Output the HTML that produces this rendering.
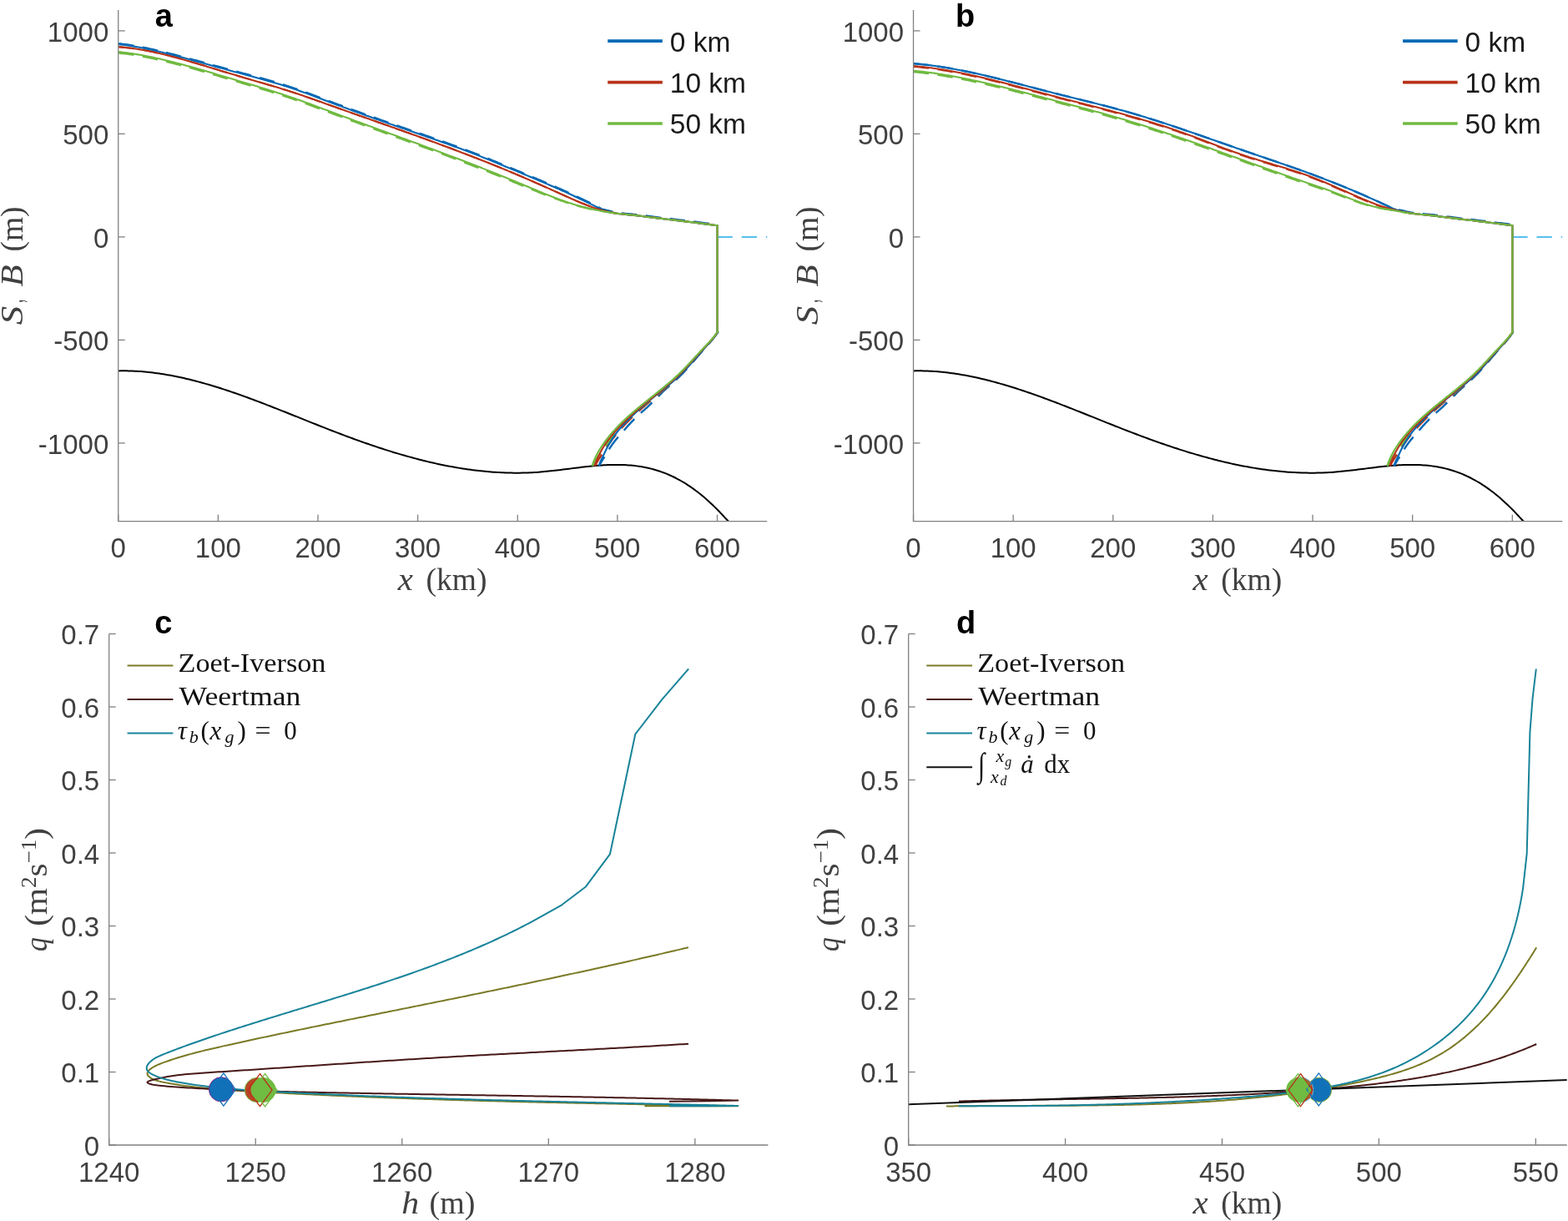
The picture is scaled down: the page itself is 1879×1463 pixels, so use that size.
<!DOCTYPE html>
<html><head><meta charset="utf-8"><title>Figure</title>
<style>html,body{margin:0;padding:0;background:#fff;}svg{display:block;}</style>
</head><body>
<svg width="1879" height="1463" viewBox="0 0 1879 1463">
<rect width="100%" height="100%" fill="#fff"/>
<defs><clipPath id="ca"><rect x="141.75" y="8" width="778.56" height="616.7"/></clipPath></defs>
<g clip-path="url(#ca)" fill="none" stroke-linejoin="round">
<path d="M859.5 283.9H919.31" stroke="#58c0ed" stroke-width="2" stroke-dasharray="18.3,10.9"/>
<polyline points="141.75,444.42 144.21,444.37 146.66,444.34 149.12,444.34 151.57,444.36 154.03,444.41 156.48,444.47 158.94,444.56 161.4,444.67 163.85,444.8 166.31,444.95 168.76,445.12 171.22,445.31 173.67,445.53 176.13,445.76 178.59,446.01 181.04,446.29 183.5,446.58 185.95,446.89 188.41,447.22 190.86,447.57 193.32,447.94 195.78,448.32 198.23,448.72 200.69,449.14 203.14,449.58 205.6,450.03 208.05,450.5 210.51,450.99 212.96,451.5 215.42,452.01 217.88,452.55 220.33,453.1 222.79,453.66 225.24,454.24 227.7,454.84 230.15,455.45 232.61,456.07 235.07,456.71 237.52,457.36 239.98,458.02 242.43,458.7 244.89,459.39 247.34,460.09 249.8,460.8 252.26,461.53 254.71,462.26 257.17,463.01 259.62,463.77 262.08,464.54 264.53,465.32 266.99,466.11 269.45,466.91 271.9,467.72 274.36,468.54 276.81,469.37 279.27,470.21 281.72,471.06 284.18,471.91 286.64,472.78 289.09,473.65 291.55,474.53 294,475.41 296.46,476.31 298.91,477.21 301.37,478.11 303.83,479.03 306.28,479.95 308.74,480.87 311.19,481.8 313.65,482.74 316.1,483.68 318.56,484.62 321.02,485.57 323.47,486.53 325.93,487.49 328.38,488.45 330.84,489.41 333.29,490.38 335.75,491.35 338.2,492.33 340.66,493.3 343.12,494.28 345.57,495.26 348.03,496.24 350.48,497.22 352.94,498.21 355.39,499.19 357.85,500.17 360.31,501.16 362.76,502.14 365.22,503.13 367.67,504.11 370.13,505.09 372.58,506.08 375.04,507.06 377.5,508.03 379.95,509.01 382.41,509.99 384.86,510.96 387.32,511.93 389.77,512.89 392.23,513.86 394.69,514.81 397.14,515.77 399.6,516.72 402.05,517.67 404.51,518.61 406.96,519.55 409.42,520.48 411.88,521.41 414.33,522.33 416.79,523.25 419.24,524.15 421.7,525.06 424.15,525.96 426.61,526.85 429.07,527.73 431.52,528.61 433.98,529.48 436.43,530.35 438.89,531.21 441.34,532.06 443.8,532.9 446.26,533.74 448.71,534.57 451.17,535.39 453.62,536.2 456.08,537.01 458.53,537.81 460.99,538.6 463.44,539.38 465.9,540.15 468.36,540.92 470.81,541.68 473.27,542.42 475.72,543.16 478.18,543.89 480.63,544.61 483.09,545.33 485.55,546.03 488,546.72 490.46,547.41 492.91,548.08 495.37,548.75 497.82,549.4 500.28,550.04 502.74,550.68 505.19,551.3 507.65,551.92 510.1,552.52 512.56,553.11 515.01,553.69 517.47,554.26 519.93,554.82 522.38,555.37 524.84,555.91 527.29,556.43 529.75,556.95 532.2,557.45 534.66,557.94 537.12,558.42 539.57,558.88 542.03,559.34 544.48,559.78 546.94,560.21 549.39,560.63 551.85,561.03 554.31,561.42 556.76,561.8 559.22,562.16 561.67,562.51 564.13,562.85 566.58,563.18 569.04,563.49 571.49,563.79 573.95,564.07 576.41,564.34 578.86,564.6 581.32,564.84 583.77,565.06 586.23,565.28 588.68,565.47 591.14,565.66 593.6,565.83 596.05,565.98 598.51,566.12 600.96,566.24 603.42,566.35 605.87,566.44 608.33,566.52 610.79,566.58 613.24,566.62 615.7,566.65 618.15,566.66 620.61,566.66 623.06,566.64 625.52,566.6 627.98,566.55 630.43,566.48 632.89,566.39 635.34,566.29 637.8,566.17 640.25,566.03 642.71,565.88 645.17,565.7 647.62,565.51 650.08,565.31 652.53,565.08 654.99,564.85 657.44,564.6 659.9,564.34 662.36,564.07 664.81,563.79 667.27,563.51 669.72,563.21 672.18,562.91 674.63,562.61 677.09,562.3 679.55,561.99 682,561.68 684.46,561.37 686.91,561.06 689.37,560.75 691.82,560.44 694.28,560.14 696.73,559.85 699.19,559.56 701.65,559.29 704.1,559.02 706.56,558.76 709.01,558.51 711.47,558.28 713.92,558.06 716.38,557.85 718.84,557.66 721.29,557.49 723.75,557.34 726.2,557.21 728.66,557.09 731.11,557 733.57,556.94 736.03,556.9 738.48,556.88 740.94,556.89 743.39,556.93 745.85,557 748.3,557.09 750.76,557.22 753.22,557.38 755.67,557.58 758.13,557.81 760.58,558.08 763.04,558.38 765.49,558.72 767.95,559.1 770.41,559.52 772.86,559.99 775.32,560.49 777.77,561.04 780.23,561.64 782.68,562.28 785.14,562.97 787.6,563.71 790.05,564.5 792.51,565.34 794.96,566.23 797.42,567.18 799.87,568.18 802.33,569.24 804.79,570.35 807.24,571.51 809.7,572.74 812.15,574.02 814.61,575.36 817.06,576.75 819.52,578.21 821.97,579.72 824.43,581.29 826.89,582.92 829.34,584.62 831.8,586.37 834.25,588.18 836.71,590.06 839.16,592 841.62,594 844.08,596.06 846.53,598.19 848.99,600.38 851.44,602.64 853.9,604.96 856.35,607.35 858.81,609.8 861.27,612.32 863.72,614.88 866.18,617.48 868.63,620.09 871.09,622.71 873.54,625.31 876,627.88" stroke="#000" stroke-width="2"/>
<polyline points="142.1,52.2 144.73,52.5 147.37,52.82 150,53.16 152.63,53.53 155.26,53.92 157.9,54.33 160.53,54.76 163.16,55.22 165.8,55.69 168.43,56.18 171.06,56.69 173.69,57.21 176.33,57.76 178.96,58.31 181.59,58.88 184.23,59.47 186.86,60.07 189.49,60.68 192.12,61.3 194.76,61.94 197.39,62.58 200.02,63.23 202.66,63.89 205.29,64.56 207.92,65.24 210.55,65.92 213.19,66.61 215.82,67.3 218.45,67.99 221.09,68.7 223.72,69.4 226.35,70.11 228.98,70.82 231.62,71.54 234.25,72.26 236.88,72.98 239.52,73.7 242.15,74.42 244.78,75.15 247.42,75.88 250.05,76.6 252.68,77.33 255.31,78.06 257.95,78.79 260.58,79.51 263.21,80.24 265.85,80.96 268.48,81.69 271.11,82.41 273.74,83.12 276.38,83.84 279.01,84.55 281.64,85.26 284.28,85.96 286.91,86.67 289.54,87.37 292.17,88.07 294.81,88.78 297.44,89.48 300.07,90.19 302.71,90.9 305.34,91.61 307.97,92.32 310.6,93.04 313.24,93.77 315.87,94.5 318.5,95.24 321.14,95.99 323.77,96.74 326.4,97.51 329.03,98.28 331.67,99.07 334.3,99.86 336.93,100.67 339.57,101.49 342.2,102.32 344.83,103.17 347.46,104.03 350.1,104.91 352.73,105.81 355.36,106.71 358,107.63 360.63,108.56 363.26,109.51 365.89,110.46 368.53,111.42 371.16,112.39 373.79,113.36 376.43,114.35 379.06,115.33 381.69,116.32 384.32,117.32 386.96,118.31 389.59,119.31 392.22,120.3 394.86,121.3 397.49,122.29 400.12,123.28 402.75,124.27 405.39,125.25 408.02,126.23 410.65,127.21 413.29,128.18 415.92,129.15 418.55,130.12 421.18,131.08 423.82,132.04 426.45,133 429.08,133.95 431.72,134.9 434.35,135.85 436.98,136.79 439.62,137.74 442.25,138.68 444.88,139.62 447.51,140.55 450.15,141.49 452.78,142.42 455.41,143.35 458.05,144.27 460.68,145.2 463.31,146.12 465.94,147.05 468.58,147.97 471.21,148.89 473.84,149.8 476.48,150.72 479.11,151.64 481.74,152.55 484.37,153.46 487.01,154.38 489.64,155.29 492.27,156.2 494.91,157.11 497.54,158.02 500.17,158.93 502.8,159.84 505.44,160.75 508.07,161.67 510.7,162.58 513.34,163.5 515.97,164.42 518.6,165.34 521.23,166.26 523.87,167.19 526.5,168.12 529.13,169.05 531.77,169.99 534.4,170.93 537.03,171.88 539.66,172.83 542.3,173.78 544.93,174.74 547.56,175.7 550.2,176.67 552.83,177.65 555.46,178.63 558.09,179.62 560.73,180.61 563.36,181.62 565.99,182.62 568.63,183.64 571.26,184.67 573.89,185.7 576.52,186.74 579.16,187.78 581.79,188.84 584.42,189.89 587.06,190.96 589.69,192.03 592.32,193.1 594.95,194.18 597.59,195.26 600.22,196.35 602.85,197.44 605.49,198.53 608.12,199.62 610.75,200.71 613.38,201.81 616.02,202.91 618.65,204 621.28,205.1 623.92,206.2 626.55,207.29 629.18,208.39 631.82,209.49 634.45,210.59 637.08,211.69 639.71,212.8 642.35,213.9 644.98,215.01 647.61,216.13 650.25,217.25 652.88,218.37 655.51,219.5 658.14,220.63 660.78,221.77 663.41,222.92 666.04,224.07 668.68,225.24 671.31,226.4 673.94,227.58 676.57,228.76 679.21,229.96 681.84,231.16 684.47,232.37 687.11,233.59 689.74,234.82 692.37,236.05 695,237.3 697.64,238.56 700.27,239.83 702.9,241.1 705.54,242.39 708.17,243.69 710.8,245 713.43,246.32 716.07,247.66 718.7,249 720.48,250.38 722.27,250.84 724.05,251.28 725.83,251.7 727.62,252.09 729.4,252.52 731.18,253.02 732.97,253.49 734.75,253.9 736.54,254.26 738.32,254.57 740.1,254.84 741.89,255.09 743.67,255.31 745.45,255.52 747.24,255.71 749.02,255.89 750.8,256.07 752.59,256.23 754.37,256.39 756.15,256.56 757.94,256.72 759.72,256.89 761.51,257.07 763.29,257.26 765.07,257.47 766.86,257.68 768.64,257.9 770.42,258.12 772.21,258.34 773.99,258.56 775.77,258.79 777.56,259.02 779.34,259.25 781.12,259.48 782.91,259.71 784.69,259.94 786.47,260.16 788.26,260.38 790.04,260.61 791.83,260.82 793.61,261.04 795.39,261.25 797.18,261.47 798.96,261.68 800.74,261.89 802.53,262.1 804.31,262.31 806.09,262.52 807.88,262.73 809.66,262.94 811.44,263.15 813.23,263.36 815.01,263.57 816.79,263.78 818.58,263.99 820.36,264.21 822.15,264.43 823.93,264.64 825.71,264.86 827.5,265.08 829.28,265.31 831.06,265.53 832.85,265.75 834.63,265.98 836.41,266.2 838.2,266.43 839.98,266.65 841.76,266.88 843.55,267.11 845.33,267.34 847.12,267.57 848.9,267.8 850.68,268.03 852.47,268.26 854.25,268.5 856.03,268.73 857.82,268.96 859.6,269.2" stroke="#0068b4" stroke-width="2.4" stroke-dasharray="18.5,10.5"/>
<polyline points="860.43,397.6 859.55,398.95 858.63,400.3 857.66,401.65 856.66,403 855.62,404.35 854.55,405.7 853.46,407.05 852.33,408.4 851.19,409.75 850.03,411.1 848.85,412.45 847.66,413.81 846.46,415.16 845.26,416.51 844.06,417.86 842.87,419.21 841.68,420.56 840.5,421.91 839.32,423.26 838.16,424.61 837,425.96 835.85,427.31 834.7,428.66 833.55,430.01 832.4,431.36 831.25,432.71 830.09,434.06 828.93,435.41 827.76,436.76 826.58,438.11 825.39,439.46 824.18,440.81 822.96,442.16 821.73,443.51 820.47,444.86 819.2,446.22 817.91,447.57 816.59,448.92 815.24,450.27 813.87,451.62 812.47,452.97 811.05,454.32 809.61,455.67 808.14,457.02 806.66,458.37 805.17,459.72 803.65,461.07 802.12,462.42 800.58,463.77 799.03,465.12 797.46,466.47 795.89,467.82 794.56,469.17 793.27,470.52 791.98,471.87 790.68,473.22 789.38,474.57 788.07,475.92 786.67,477.27 785.26,478.63 783.86,479.98 782.45,481.33 781.06,482.68 779.67,484.03 778.29,485.38 776.92,486.73 775.54,488.08 773.99,489.43 772.46,490.78 770.93,492.13 769.43,493.48 767.94,494.83 766.47,496.18 765.02,497.53 763.6,498.88 762.19,500.23 760.8,501.58 759.43,502.93 758.09,504.28 756.78,505.63 755.5,506.98 754.25,508.33 753.01,509.68 751.8,511.04 750.61,512.39 749.44,513.74 748.3,515.09 747.18,516.44 746.08,517.79 744.85,519.14 743.61,520.49 742.4,521.84 741.21,523.19 740.05,524.54 738.91,525.89 737.79,527.24 736.7,528.59 735.63,529.94 734.64,531.29 733.67,532.64 732.73,533.99 731.82,535.34 730.92,536.69 730.06,538.04 729.22,539.39 728.4,540.74 727.62,542.09 726.86,543.45 726.12,544.8 725.21,546.15 724.3,547.5 723.41,548.85 722.55,550.2 721.72,551.55 720.91,552.9 720.13,554.25 719.38,555.6 718.66,556.95 718.02,558.3" stroke="#0068b4" stroke-width="2.4" stroke-dasharray="18.5,10.5"/>
<polyline points="142.1,56.2 144.7,56.41 147.3,56.64 149.89,56.9 152.49,57.18 155.09,57.49 157.69,57.82 160.28,58.18 162.88,58.56 165.48,58.96 168.08,59.38 170.67,59.82 173.27,60.29 175.87,60.77 178.47,61.28 181.07,61.8 183.66,62.34 186.26,62.9 188.86,63.47 191.46,64.06 194.05,64.67 196.65,65.29 199.25,65.92 201.85,66.57 204.45,67.23 207.04,67.91 209.64,68.59 212.24,69.29 214.84,70 217.43,70.71 220.03,71.44 222.63,72.18 225.23,72.92 227.82,73.67 230.42,74.43 233.02,75.2 235.62,75.97 238.22,76.74 240.81,77.52 243.41,78.31 246.01,79.09 248.61,79.88 251.2,80.67 253.8,81.47 256.4,82.26 259,83.05 261.59,83.85 264.19,84.64 266.79,85.43 269.39,86.22 271.99,87 274.58,87.79 277.18,88.56 279.78,89.34 282.38,90.1 284.97,90.87 287.57,91.63 290.17,92.39 292.77,93.14 295.37,93.89 297.96,94.64 300.56,95.4 303.16,96.15 305.76,96.9 308.35,97.65 310.95,98.4 313.55,99.16 316.15,99.91 318.74,100.67 321.34,101.44 323.94,102.21 326.54,102.98 329.14,103.76 331.73,104.55 334.33,105.34 336.93,106.14 339.53,106.94 342.12,107.76 344.72,108.58 347.32,109.41 349.92,110.26 352.52,111.11 355.11,111.97 357.71,112.84 360.31,113.71 362.91,114.6 365.5,115.49 368.1,116.39 370.7,117.29 373.3,118.2 375.89,119.11 378.49,120.02 381.09,120.94 383.69,121.86 386.29,122.79 388.88,123.71 391.48,124.64 394.08,125.57 396.68,126.49 399.27,127.42 401.87,128.35 404.47,129.27 407.07,130.19 409.66,131.11 412.26,132.03 414.86,132.95 417.46,133.87 420.06,134.79 422.65,135.71 425.25,136.62 427.85,137.54 430.45,138.45 433.04,139.37 435.64,140.28 438.24,141.2 440.84,142.11 443.44,143.03 446.03,143.94 448.63,144.86 451.23,145.77 453.83,146.69 456.42,147.6 459.02,148.52 461.62,149.43 464.22,150.35 466.81,151.27 469.41,152.18 472.01,153.1 474.61,154.02 477.21,154.94 479.8,155.86 482.4,156.79 485,157.71 487.6,158.64 490.19,159.56 492.79,160.49 495.39,161.42 497.99,162.35 500.58,163.29 503.18,164.22 505.78,165.16 508.38,166.1 510.98,167.04 513.57,167.98 516.17,168.93 518.77,169.87 521.37,170.82 523.96,171.78 526.56,172.73 529.16,173.69 531.76,174.65 534.36,175.61 536.95,176.58 539.55,177.55 542.15,178.52 544.75,179.49 547.34,180.47 549.94,181.45 552.54,182.44 555.14,183.43 557.73,184.42 560.33,185.41 562.93,186.41 565.53,187.41 568.13,188.42 570.72,189.43 573.32,190.44 575.92,191.46 578.52,192.49 581.11,193.51 583.71,194.54 586.31,195.58 588.91,196.62 591.51,197.66 594.1,198.71 596.7,199.77 599.3,200.83 601.9,201.89 604.49,202.96 607.09,204.03 609.69,205.11 612.29,206.2 614.88,207.28 617.48,208.38 620.08,209.48 622.68,210.59 625.28,211.7 627.87,212.81 630.47,213.93 633.07,215.06 635.67,216.19 638.26,217.33 640.86,218.46 643.46,219.61 646.06,220.75 648.65,221.9 651.25,223.06 653.85,224.21 656.45,225.37 659.05,226.53 661.64,227.7 664.24,228.87 666.84,230.04 669.44,231.21 672.03,232.38 674.63,233.55 677.23,234.72 679.83,235.88 682.43,237.04 685.02,238.18 687.62,239.32 690.22,240.45 692.82,241.56 695.41,242.66 698.01,243.74 700.61,244.8 703.21,245.83 705.8,246.85 708.4,247.84 711,248.81 712.88,249.34 714.76,249.87 716.64,250.38 718.52,250.87 720.41,251.35 722.29,251.85 724.17,252.34 726.05,252.82 727.93,253.27 729.81,253.69 731.69,254.09 733.57,254.46 735.45,254.8 737.33,255.11 739.22,255.39 741.1,255.65 742.98,255.89 744.86,256.11 746.74,256.32 748.62,256.51 750.5,256.7 752.38,256.88 754.26,257.06 756.14,257.24 758.03,257.42 759.91,257.6 761.79,257.8 763.67,258 765.55,258.22 767.43,258.45 769.31,258.68 771.19,258.91 773.07,259.15 774.95,259.39 776.84,259.63 778.72,259.87 780.6,260.11 782.48,260.35 784.36,260.59 786.24,260.83 788.12,261.07 790,261.3 791.88,261.53 793.76,261.76 795.65,261.98 797.53,262.21 799.41,262.43 801.29,262.65 803.17,262.87 805.05,263.1 806.93,263.32 808.81,263.54 810.69,263.76 812.57,263.98 814.46,264.2 816.34,264.43 818.22,264.65 820.1,264.88 821.98,265.11 823.86,265.34 825.74,265.57 827.62,265.8 829.5,266.03 831.38,266.27 833.27,266.5 835.15,266.74 837.03,266.98 838.91,267.22 840.79,267.46 842.67,267.7 844.55,267.94 846.43,268.18 848.31,268.42 850.19,268.67 852.08,268.91 853.96,269.16 855.84,269.4 857.72,269.65 859.6,269.9" stroke="#b73218" stroke-width="2" stroke-dasharray="18.5,10.5"/>
<polyline points="860.13,397.6 859.26,398.95 858.35,400.3 857.4,401.65 856.4,403 855.38,404.35 854.32,405.7 853.23,407.05 852.12,408.4 850.99,409.75 849.81,411.1 848.6,412.45 847.38,413.81 846.16,415.16 844.93,416.51 843.71,417.86 842.48,419.21 841.27,420.56 840.06,421.91 838.86,423.26 837.67,424.61 836.48,425.96 835.3,427.31 834.13,428.66 832.95,430.01 831.77,431.36 830.6,432.71 829.41,434.06 828.22,435.41 827.02,436.76 825.82,438.11 824.6,439.46 823.37,440.81 822.12,442.16 820.86,443.51 819.58,444.86 818.28,446.22 816.95,447.57 815.61,448.92 814.24,450.27 812.83,451.62 811.4,452.97 809.95,454.32 808.48,455.67 806.99,457.02 805.48,458.37 803.95,459.72 802.41,461.07 800.85,462.42 799.27,463.77 797.69,465.12 796.1,466.47 794.49,467.82 792.9,469.17 791.31,470.52 789.71,471.87 788.1,473.22 786.5,474.57 784.89,475.92 783.28,477.27 781.67,478.63 780.06,479.98 778.45,481.33 776.86,482.68 775.26,484.03 773.68,485.38 772.11,486.73 770.54,488.08 768.99,489.43 767.46,490.78 765.93,492.13 764.43,493.48 762.94,494.83 761.47,496.18 760.02,497.53 758.6,498.88 757.19,500.23 755.8,501.58 754.43,502.93 753.09,504.28 751.76,505.63 750.44,506.98 749.14,508.33 747.87,509.68 746.61,511.04 745.38,512.39 744.17,513.74 742.99,515.09 741.83,516.44 740.68,517.79 739.53,519.14 738.4,520.49 737.29,521.84 736.2,523.19 735.14,524.54 734.1,525.89 733.09,527.24 732.09,528.59 731.13,529.94 730.1,531.29 729.08,532.64 728.1,533.99 727.14,535.34 726.2,536.69 725.29,538.04 724.41,539.39 723.55,540.74 722.71,542.09 721.91,543.45 721.13,544.8 720.21,546.15 719.3,547.5 718.41,548.85 717.55,550.2 716.72,551.55 715.91,552.9 715.13,554.25 714.38,555.6 713.66,556.95 713.02,558.3" stroke="#b73218" stroke-width="2.4" stroke-dasharray="18.5,10.5"/>
<polyline points="142.1,63.4 144.7,63.69 147.3,64 149.9,64.33 152.5,64.68 155.1,65.04 157.69,65.43 160.29,65.83 162.89,66.25 165.49,66.69 168.09,67.14 170.69,67.61 173.29,68.1 175.89,68.6 178.49,69.11 181.09,69.64 183.69,70.19 186.28,70.74 188.88,71.31 191.48,71.9 194.08,72.49 196.68,73.1 199.28,73.72 201.88,74.35 204.48,74.99 207.08,75.64 209.68,76.3 212.28,76.98 214.87,77.66 217.47,78.34 220.07,79.04 222.67,79.75 225.27,80.46 227.87,81.18 230.47,81.9 233.07,82.63 235.67,83.37 238.27,84.11 240.87,84.86 243.46,85.61 246.06,86.37 248.66,87.13 251.26,87.89 253.86,88.66 256.46,89.43 259.06,90.2 261.66,90.97 264.26,91.75 266.86,92.52 269.46,93.3 272.05,94.07 274.65,94.85 277.25,95.62 279.85,96.4 282.45,97.17 285.05,97.94 287.65,98.71 290.25,99.48 292.85,100.25 295.45,101.02 298.05,101.8 300.64,102.57 303.24,103.35 305.84,104.13 308.44,104.92 311.04,105.7 313.64,106.49 316.24,107.29 318.84,108.09 321.44,108.9 324.04,109.71 326.64,110.53 329.23,111.35 331.83,112.18 334.43,113.02 337.03,113.87 339.63,114.72 342.23,115.59 344.83,116.46 347.43,117.34 350.03,118.23 352.63,119.14 355.23,120.05 357.82,120.96 360.42,121.89 363.02,122.83 365.62,123.77 368.22,124.71 370.82,125.66 373.42,126.62 376.02,127.58 378.62,128.55 381.22,129.51 383.82,130.48 386.41,131.46 389.01,132.43 391.61,133.4 394.21,134.38 396.81,135.35 399.41,136.32 402.01,137.29 404.61,138.26 407.21,139.23 409.81,140.2 412.41,141.16 415,142.13 417.6,143.09 420.2,144.05 422.8,145.01 425.4,145.97 428,146.93 430.6,147.88 433.2,148.84 435.8,149.8 438.4,150.75 440.99,151.7 443.59,152.66 446.19,153.61 448.79,154.56 451.39,155.51 453.99,156.47 456.59,157.42 459.19,158.37 461.79,159.32 464.39,160.27 466.99,161.22 469.58,162.17 472.18,163.12 474.78,164.08 477.38,165.03 479.98,165.98 482.58,166.93 485.18,167.89 487.78,168.84 490.38,169.8 492.98,170.75 495.58,171.71 498.17,172.66 500.77,173.62 503.37,174.58 505.97,175.54 508.57,176.5 511.17,177.47 513.77,178.43 516.37,179.39 518.97,180.36 521.57,181.33 524.17,182.3 526.76,183.27 529.36,184.24 531.96,185.22 534.56,186.2 537.16,187.18 539.76,188.16 542.36,189.14 544.96,190.12 547.56,191.11 550.16,192.1 552.76,193.09 555.35,194.09 557.95,195.08 560.55,196.08 563.15,197.09 565.75,198.09 568.35,199.1 570.95,200.11 573.55,201.12 576.15,202.14 578.75,203.16 581.35,204.18 583.94,205.21 586.54,206.24 589.14,207.27 591.74,208.31 594.34,209.35 596.94,210.39 599.54,211.44 602.14,212.49 604.74,213.54 607.34,214.6 609.94,215.66 612.53,216.73 615.13,217.8 617.73,218.87 620.33,219.95 622.93,221.03 625.53,222.12 628.13,223.21 630.73,224.29 633.33,225.35 635.93,226.39 638.53,227.44 641.12,228.47 643.72,229.51 646.32,230.54 648.92,231.56 651.52,232.57 654.12,233.58 656.72,234.57 659.32,235.55 661.92,236.53 664.52,237.48 667.12,238.43 669.71,239.35 672.31,240.27 674.91,241.16 677.51,242.03 680.11,242.89 682.71,243.72 685.31,244.52 687.91,245.3 690.51,246.06 693.11,246.79 695.71,247.49 698.3,248.16 700.9,248.79 703.5,249.4 706.1,249.97 708.7,250.5 711.3,251 713.18,251.37 715.05,251.74 716.93,252.09 718.81,252.44 720.69,252.78 722.56,253.12 724.44,253.44 726.32,253.76 728.19,254.07 730.07,254.37 731.95,254.66 733.83,254.93 735.7,255.2 737.58,255.46 739.46,255.7 741.34,255.93 743.21,256.15 745.09,256.36 746.97,256.57 748.84,256.76 750.72,256.95 752.6,257.14 754.48,257.33 756.35,257.52 758.23,257.71 760.11,257.91 761.98,258.11 763.86,258.33 765.74,258.55 767.62,258.77 769.49,259 771.37,259.23 773.25,259.47 775.13,259.71 777,259.95 778.88,260.19 780.76,260.43 782.63,260.67 784.51,260.91 786.39,261.15 788.27,261.39 790.14,261.62 792.02,261.85 793.9,262.07 795.77,262.3 797.65,262.52 799.53,262.75 801.41,262.97 803.28,263.19 805.16,263.41 807.04,263.63 808.92,263.85 810.79,264.07 812.67,264.29 814.55,264.51 816.42,264.74 818.3,264.96 820.18,265.19 822.06,265.41 823.93,265.64 825.81,265.88 827.69,266.11 829.56,266.34 831.44,266.58 833.32,266.81 835.2,267.05 837.07,267.28 838.95,267.52 840.83,267.76 842.71,268 844.58,268.24 846.46,268.48 848.34,268.73 850.21,268.97 852.09,269.21 853.97,269.46 855.85,269.71 857.72,269.95 859.6,270.2" stroke="#70ba40" stroke-width="2.4" stroke-dasharray="18.5,10.5"/>
<polyline points="860.13,397.6 859.24,398.95 858.31,400.3 857.33,401.65 856.32,403 855.27,404.35 854.19,405.7 853.08,407.05 851.95,408.4 850.79,409.75 849.59,411.1 848.36,412.45 847.13,413.81 845.88,415.16 844.64,416.51 843.39,417.86 842.14,419.21 840.91,420.56 839.68,421.91 838.46,423.26 837.25,424.61 836.04,425.96 834.84,427.31 833.65,428.66 832.45,430.01 831.25,431.36 830.05,432.71 828.85,434.06 827.64,435.41 826.42,436.76 825.2,438.11 823.96,439.46 822.7,440.81 821.44,442.16 820.16,443.51 818.85,444.86 817.53,446.22 816.19,447.57 814.82,448.92 813.43,450.27 812.01,451.62 810.55,452.97 809.08,454.32 807.59,455.67 806.07,457.02 804.54,458.37 802.99,459.72 801.42,461.07 799.84,462.42 798.25,463.77 796.64,465.12 795.02,466.47 793.39,467.82 791.77,469.17 790.14,470.52 788.51,471.87 786.87,473.22 785.23,474.57 783.59,475.92 781.94,477.27 780.28,478.63 778.63,479.98 776.98,481.33 775.33,482.68 773.7,484.03 772.07,485.38 770.45,486.73 768.84,488.08 767.25,489.43 765.67,490.78 764.11,492.13 762.57,493.48 761.04,494.83 759.53,496.18 758.04,497.53 756.58,498.88 755.13,500.23 753.7,501.58 752.3,502.93 750.91,504.28 749.54,505.63 748.18,506.98 746.84,508.33 745.52,509.68 744.23,511.04 742.96,512.39 741.71,513.74 740.48,515.09 739.27,516.44 738.09,517.79 736.96,519.14 735.86,520.49 734.79,521.84 733.73,523.19 732.7,524.54 731.7,525.89 730.72,527.24 729.76,528.59 728.83,529.94 727.74,531.29 726.66,532.64 725.61,533.99 724.59,535.34 723.59,536.69 722.62,538.04 721.67,539.39 720.75,540.74 719.85,542.09 718.98,543.45 718.14,544.8 717.21,546.15 716.3,547.5 715.41,548.85 714.55,550.2 713.72,551.55 712.91,552.9 712.13,554.25 711.38,555.6 710.66,556.95 710.02,558.3" stroke="#70ba40" stroke-width="2.4" stroke-dasharray="18.5,10.5"/>
<polyline points="142.1,53.1 144.73,53.4 147.37,53.72 150,54.06 152.63,54.43 155.26,54.82 157.9,55.23 160.53,55.66 163.16,56.12 165.8,56.59 168.43,57.08 171.06,57.59 173.69,58.11 176.33,58.66 178.96,59.21 181.59,59.78 184.23,60.37 186.86,60.97 189.49,61.58 192.12,62.2 194.76,62.84 197.39,63.48 200.02,64.13 202.66,64.79 205.29,65.46 207.92,66.14 210.55,66.82 213.19,67.51 215.82,68.2 218.45,68.89 221.09,69.6 223.72,70.3 226.35,71.01 228.98,71.72 231.62,72.44 234.25,73.16 236.88,73.88 239.52,74.6 242.15,75.32 244.78,76.05 247.42,76.78 250.05,77.5 252.68,78.23 255.31,78.96 257.95,79.69 260.58,80.41 263.21,81.14 265.85,81.86 268.48,82.59 271.11,83.31 273.74,84.02 276.38,84.74 279.01,85.45 281.64,86.16 284.28,86.86 286.91,87.57 289.54,88.27 292.17,88.97 294.81,89.68 297.44,90.38 300.07,91.09 302.71,91.8 305.34,92.51 307.97,93.22 310.6,93.94 313.24,94.67 315.87,95.4 318.5,96.14 321.14,96.89 323.77,97.64 326.4,98.41 329.03,99.18 331.67,99.97 334.3,100.76 336.93,101.57 339.57,102.39 342.2,103.22 344.83,104.07 347.46,104.93 350.1,105.81 352.73,106.71 355.36,107.61 358,108.53 360.63,109.46 363.26,110.41 365.89,111.36 368.53,112.32 371.16,113.29 373.79,114.26 376.43,115.25 379.06,116.23 381.69,117.22 384.32,118.22 386.96,119.21 389.59,120.21 392.22,121.2 394.86,122.2 397.49,123.19 400.12,124.18 402.75,125.17 405.39,126.15 408.02,127.13 410.65,128.11 413.29,129.08 415.92,130.05 418.55,131.02 421.18,131.98 423.82,132.94 426.45,133.9 429.08,134.85 431.72,135.8 434.35,136.75 436.98,137.69 439.62,138.64 442.25,139.58 444.88,140.52 447.51,141.45 450.15,142.39 452.78,143.32 455.41,144.25 458.05,145.17 460.68,146.1 463.31,147.02 465.94,147.95 468.58,148.87 471.21,149.79 473.84,150.7 476.48,151.62 479.11,152.54 481.74,153.45 484.37,154.36 487.01,155.28 489.64,156.19 492.27,157.1 494.91,158.01 497.54,158.92 500.17,159.83 502.8,160.74 505.44,161.65 508.07,162.57 510.7,163.48 513.34,164.4 515.97,165.32 518.6,166.24 521.23,167.16 523.87,168.09 526.5,169.02 529.13,169.95 531.77,170.89 534.4,171.83 537.03,172.78 539.66,173.73 542.3,174.68 544.93,175.64 547.56,176.6 550.2,177.57 552.83,178.55 555.46,179.53 558.09,180.52 560.73,181.51 563.36,182.52 565.99,183.52 568.63,184.54 571.26,185.57 573.89,186.6 576.52,187.64 579.16,188.68 581.79,189.74 584.42,190.79 587.06,191.86 589.69,192.93 592.32,194 594.95,195.08 597.59,196.16 600.22,197.25 602.85,198.34 605.49,199.43 608.12,200.52 610.75,201.61 613.38,202.71 616.02,203.81 618.65,204.9 621.28,206 623.92,207.1 626.55,208.19 629.18,209.29 631.82,210.39 634.45,211.49 637.08,212.59 639.71,213.7 642.35,214.8 644.98,215.91 647.61,217.03 650.25,218.15 652.88,219.27 655.51,220.4 658.14,221.53 660.78,222.67 663.41,223.82 666.04,224.97 668.68,226.14 671.31,227.3 673.94,228.48 676.57,229.66 679.21,230.86 681.84,232.06 684.47,233.27 687.11,234.49 689.74,235.72 692.37,236.95 695,238.2 697.64,239.46 700.27,240.73 702.9,242 705.54,243.29 708.17,244.59 710.8,245.9 713.43,247.22 716.07,248.56 718.7,249.9 720.48,250.55 722.27,251.19 724.05,251.81 725.83,252.41 727.62,252.98 729.4,253.52 731.18,254.02 732.97,254.49 734.75,254.9 736.54,255.26 738.32,255.57 740.1,255.84 741.89,256.09 743.67,256.31 745.45,256.52 747.24,256.71 749.02,256.89 750.8,257.07 752.59,257.23 754.37,257.39 756.15,257.56 757.94,257.72 759.72,257.89 761.51,258.07 763.29,258.26 765.07,258.47 766.86,258.68 768.64,258.9 770.42,259.12 772.21,259.34 773.99,259.56 775.77,259.79 777.56,260.02 779.34,260.25 781.12,260.48 782.91,260.71 784.69,260.94 786.47,261.16 788.26,261.38 790.04,261.61 791.83,261.82 793.61,262.04 795.39,262.25 797.18,262.47 798.96,262.68 800.74,262.89 802.53,263.1 804.31,263.31 806.09,263.52 807.88,263.73 809.66,263.94 811.44,264.15 813.23,264.36 815.01,264.57 816.79,264.78 818.58,264.99 820.36,265.21 822.15,265.43 823.93,265.64 825.71,265.86 827.5,266.08 829.28,266.31 831.06,266.53 832.85,266.75 834.63,266.98 836.41,267.2 838.2,267.43 839.98,267.65 841.76,267.88 843.55,268.11 845.33,268.34 847.12,268.57 848.9,268.8 850.68,269.03 852.47,269.26 854.25,269.5 856.03,269.73 857.82,269.96 859.6,270.2 859.6,397.6 860.43,397.6 859.53,398.95 858.59,400.3 857.6,401.65 856.57,403 855.51,404.35 854.42,405.7 853.3,407.05 852.16,408.4 851,409.75 849.81,411.1 848.6,412.45 847.38,413.81 846.16,415.16 844.93,416.51 843.71,417.86 842.48,419.21 841.27,420.56 840.06,421.91 838.86,423.26 837.67,424.61 836.48,425.96 835.3,427.31 834.13,428.66 832.95,430.01 831.77,431.36 830.6,432.71 829.41,434.06 828.22,435.41 827.02,436.76 825.82,438.11 824.6,439.46 823.37,440.81 822.12,442.16 820.86,443.51 819.58,444.86 818.28,446.22 816.95,447.57 815.61,448.92 814.22,450.27 812.72,451.62 811.21,452.97 809.67,454.32 808.1,455.67 806.52,457.02 804.92,458.37 803.3,459.72 801.67,461.07 800.02,462.42 798.36,463.77 796.68,465.12 795,466.47 793.3,467.82 791.61,469.17 789.92,470.52 788.22,471.87 786.51,473.22 784.8,474.57 783.1,475.92 781.48,477.27 779.87,478.63 778.26,479.98 776.65,481.33 775.06,482.68 773.46,484.03 771.88,485.38 770.31,486.73 768.74,488.08 767.22,489.43 765.71,490.78 764.21,492.13 762.73,493.48 761.26,494.83 759.82,496.18 758.39,497.53 756.99,498.88 755.6,500.23 754.24,501.58 752.9,502.93 751.58,504.28 750.27,505.63 748.99,506.98 747.72,508.33 746.48,509.68 745.25,511.04 744.05,512.39 742.88,513.74 741.72,515.09 740.59,516.44 739.48,517.79 738.47,519.14 737.49,520.49 736.54,521.84 735.61,523.19 734.7,524.54 733.82,525.89 732.96,527.24 732.13,528.59 731.32,529.94 730.49,531.29 729.69,532.64 728.91,533.99 728.16,535.34 727.43,536.69 726.72,538.04 726.05,539.39 725.39,540.74 724.77,542.09 724.17,543.45 723.6,544.8 722.89,546.15 722.18,547.5 721.5,548.85 720.85,550.2 720.22,551.55 719.63,552.9 719.05,554.25 718.51,555.6 718,556.95 717.52,558.3" stroke="#0068b4" stroke-width="2.1"/>
<polyline points="142.1,56.2 144.7,56.41 147.3,56.64 149.89,56.9 152.49,57.18 155.09,57.49 157.69,57.82 160.28,58.18 162.88,58.56 165.48,58.96 168.08,59.38 170.67,59.82 173.27,60.29 175.87,60.77 178.47,61.28 181.07,61.8 183.66,62.34 186.26,62.9 188.86,63.47 191.46,64.06 194.05,64.67 196.65,65.29 199.25,65.92 201.85,66.57 204.45,67.23 207.04,67.91 209.64,68.59 212.24,69.29 214.84,70 217.43,70.71 220.03,71.44 222.63,72.18 225.23,72.92 227.82,73.67 230.42,74.43 233.02,75.2 235.62,75.97 238.22,76.74 240.81,77.52 243.41,78.31 246.01,79.09 248.61,79.88 251.2,80.67 253.8,81.47 256.4,82.26 259,83.05 261.59,83.85 264.19,84.64 266.79,85.43 269.39,86.22 271.99,87 274.58,87.79 277.18,88.56 279.78,89.34 282.38,90.1 284.97,90.87 287.57,91.63 290.17,92.39 292.77,93.14 295.37,93.89 297.96,94.64 300.56,95.4 303.16,96.15 305.76,96.9 308.35,97.65 310.95,98.4 313.55,99.16 316.15,99.91 318.74,100.67 321.34,101.44 323.94,102.21 326.54,102.98 329.14,103.76 331.73,104.55 334.33,105.34 336.93,106.14 339.53,106.94 342.12,107.76 344.72,108.58 347.32,109.41 349.92,110.26 352.52,111.11 355.11,111.97 357.71,112.84 360.31,113.71 362.91,114.6 365.5,115.49 368.1,116.39 370.7,117.29 373.3,118.2 375.89,119.11 378.49,120.02 381.09,120.94 383.69,121.86 386.29,122.79 388.88,123.71 391.48,124.64 394.08,125.57 396.68,126.49 399.27,127.42 401.87,128.35 404.47,129.27 407.07,130.19 409.66,131.11 412.26,132.03 414.86,132.95 417.46,133.87 420.06,134.79 422.65,135.71 425.25,136.62 427.85,137.54 430.45,138.45 433.04,139.37 435.64,140.28 438.24,141.2 440.84,142.11 443.44,143.03 446.03,143.94 448.63,144.86 451.23,145.77 453.83,146.69 456.42,147.6 459.02,148.52 461.62,149.43 464.22,150.35 466.81,151.27 469.41,152.18 472.01,153.1 474.61,154.02 477.21,154.94 479.8,155.86 482.4,156.79 485,157.71 487.6,158.64 490.19,159.56 492.79,160.49 495.39,161.42 497.99,162.35 500.58,163.29 503.18,164.22 505.78,165.16 508.38,166.1 510.98,167.04 513.57,167.98 516.17,168.93 518.77,169.87 521.37,170.82 523.96,171.78 526.56,172.73 529.16,173.69 531.76,174.65 534.36,175.61 536.95,176.58 539.55,177.55 542.15,178.52 544.75,179.49 547.34,180.47 549.94,181.45 552.54,182.44 555.14,183.43 557.73,184.42 560.33,185.41 562.93,186.41 565.53,187.41 568.13,188.42 570.72,189.43 573.32,190.44 575.92,191.46 578.52,192.49 581.11,193.51 583.71,194.54 586.31,195.58 588.91,196.62 591.51,197.66 594.1,198.71 596.7,199.77 599.3,200.83 601.9,201.89 604.49,202.96 607.09,204.03 609.69,205.11 612.29,206.2 614.88,207.28 617.48,208.38 620.08,209.48 622.68,210.59 625.28,211.7 627.87,212.81 630.47,213.93 633.07,215.06 635.67,216.19 638.26,217.33 640.86,218.46 643.46,219.61 646.06,220.75 648.65,221.9 651.25,223.06 653.85,224.21 656.45,225.37 659.05,226.53 661.64,227.7 664.24,228.87 666.84,230.04 669.44,231.21 672.03,232.38 674.63,233.55 677.23,234.72 679.83,235.88 682.43,237.04 685.02,238.18 687.62,239.32 690.22,240.45 692.82,241.56 695.41,242.66 698.01,243.74 700.61,244.8 703.21,245.83 705.8,246.85 708.4,247.84 711,248.81 712.88,249.4 714.76,249.98 716.64,250.55 718.52,251.1 720.41,251.63 722.29,252.15 724.17,252.64 726.05,253.12 727.93,253.57 729.81,253.99 731.69,254.39 733.57,254.76 735.45,255.1 737.33,255.41 739.22,255.69 741.1,255.95 742.98,256.19 744.86,256.41 746.74,256.62 748.62,256.81 750.5,257 752.38,257.18 754.26,257.36 756.14,257.54 758.03,257.72 759.91,257.9 761.79,258.1 763.67,258.3 765.55,258.52 767.43,258.75 769.31,258.98 771.19,259.21 773.07,259.45 774.95,259.69 776.84,259.93 778.72,260.17 780.6,260.41 782.48,260.65 784.36,260.89 786.24,261.13 788.12,261.37 790,261.6 791.88,261.83 793.76,262.06 795.65,262.28 797.53,262.51 799.41,262.73 801.29,262.95 803.17,263.17 805.05,263.4 806.93,263.62 808.81,263.84 810.69,264.06 812.57,264.28 814.46,264.5 816.34,264.73 818.22,264.95 820.1,265.18 821.98,265.41 823.86,265.64 825.74,265.87 827.62,266.1 829.5,266.33 831.38,266.57 833.27,266.8 835.15,267.04 837.03,267.28 838.91,267.52 840.79,267.76 842.67,268 844.55,268.24 846.43,268.48 848.31,268.72 850.19,268.97 852.08,269.21 853.96,269.46 855.84,269.7 857.72,269.95 859.6,270.2 859.6,397.6 860.13,397.6 859.2,398.95 858.22,400.3 857.2,401.65 856.14,403 855.05,404.35 853.93,405.7 852.78,407.05 851.6,408.4 850.4,409.75 849.17,411.1 847.93,412.45 846.67,413.81 845.41,415.16 844.14,416.51 842.87,417.86 841.61,419.21 840.35,420.56 839.1,421.91 837.86,423.26 836.63,424.61 835.41,425.96 834.19,427.31 832.97,428.66 831.75,430.01 830.53,431.36 829.31,432.71 828.09,434.06 826.86,435.41 825.62,436.76 824.37,438.11 823.11,439.46 821.84,440.81 820.56,442.16 819.25,443.51 817.93,444.86 816.59,446.22 815.23,447.57 813.84,448.92 812.43,450.27 810.99,451.62 809.52,452.97 808.03,454.32 806.52,455.67 804.99,457.02 803.45,458.37 801.88,459.72 800.3,461.07 798.7,462.42 797.09,463.77 795.47,465.12 793.84,466.47 792.2,467.82 790.57,469.17 788.94,470.52 787.31,471.87 785.67,473.22 784.03,474.57 782.39,475.92 780.73,477.27 779.06,478.63 777.39,479.98 775.73,481.33 774.08,482.68 772.43,484.03 770.79,485.38 769.16,486.73 767.54,488.08 765.93,489.43 764.34,490.78 762.76,492.13 761.2,493.48 759.66,494.83 758.14,496.18 756.63,497.53 755.15,498.88 753.68,500.23 752.24,501.58 750.82,502.93 749.42,504.28 748.03,505.63 746.66,506.98 745.31,508.33 743.99,509.68 742.68,511.04 741.4,512.39 740.14,513.74 738.9,515.09 737.69,516.44 736.49,517.79 735.31,519.14 734.16,520.49 733.03,521.84 731.92,523.19 730.83,524.54 729.77,525.89 728.73,527.24 727.72,528.59 726.73,529.94 725.82,531.29 724.93,532.64 724.07,533.99 723.24,535.34 722.43,536.69 721.64,538.04 720.88,539.39 720.15,540.74 719.44,542.09 718.76,543.45 718.11,544.8 717.43,546.15 716.78,547.5 716.15,548.85 715.55,550.2 714.98,551.55 714.43,552.9 713.91,554.25 713.42,555.6 712.96,556.95 712.52,558.3" stroke="#b73218" stroke-width="2.1"/>
<polyline points="142.1,62.1 144.7,62.39 147.3,62.7 149.9,63.03 152.5,63.38 155.1,63.74 157.69,64.13 160.29,64.53 162.89,64.95 165.49,65.39 168.09,65.84 170.69,66.31 173.29,66.8 175.89,67.3 178.49,67.81 181.09,68.34 183.69,68.89 186.28,69.44 188.88,70.01 191.48,70.6 194.08,71.19 196.68,71.8 199.28,72.42 201.88,73.05 204.48,73.69 207.08,74.34 209.68,75 212.28,75.68 214.87,76.36 217.47,77.04 220.07,77.74 222.67,78.45 225.27,79.16 227.87,79.88 230.47,80.6 233.07,81.33 235.67,82.07 238.27,82.81 240.87,83.56 243.46,84.31 246.06,85.07 248.66,85.83 251.26,86.59 253.86,87.36 256.46,88.13 259.06,88.9 261.66,89.67 264.26,90.45 266.86,91.22 269.46,92 272.05,92.77 274.65,93.55 277.25,94.32 279.85,95.1 282.45,95.87 285.05,96.64 287.65,97.41 290.25,98.18 292.85,98.95 295.45,99.72 298.05,100.5 300.64,101.27 303.24,102.05 305.84,102.83 308.44,103.62 311.04,104.4 313.64,105.19 316.24,105.99 318.84,106.79 321.44,107.6 324.04,108.41 326.64,109.23 329.23,110.05 331.83,110.88 334.43,111.72 337.03,112.57 339.63,113.42 342.23,114.29 344.83,115.16 347.43,116.04 350.03,116.93 352.63,117.84 355.23,118.75 357.82,119.66 360.42,120.59 363.02,121.53 365.62,122.47 368.22,123.41 370.82,124.36 373.42,125.32 376.02,126.28 378.62,127.25 381.22,128.21 383.82,129.18 386.41,130.16 389.01,131.13 391.61,132.1 394.21,133.08 396.81,134.05 399.41,135.02 402.01,135.99 404.61,136.96 407.21,137.93 409.81,138.9 412.41,139.86 415,140.83 417.6,141.79 420.2,142.75 422.8,143.71 425.4,144.67 428,145.63 430.6,146.58 433.2,147.54 435.8,148.5 438.4,149.45 440.99,150.4 443.59,151.36 446.19,152.31 448.79,153.26 451.39,154.21 453.99,155.17 456.59,156.12 459.19,157.07 461.79,158.02 464.39,158.97 466.99,159.92 469.58,160.87 472.18,161.82 474.78,162.78 477.38,163.73 479.98,164.68 482.58,165.63 485.18,166.59 487.78,167.54 490.38,168.5 492.98,169.45 495.58,170.41 498.17,171.36 500.77,172.32 503.37,173.28 505.97,174.24 508.57,175.2 511.17,176.17 513.77,177.13 516.37,178.09 518.97,179.06 521.57,180.03 524.17,181 526.76,181.97 529.36,182.94 531.96,183.92 534.56,184.9 537.16,185.88 539.76,186.86 542.36,187.84 544.96,188.82 547.56,189.81 550.16,190.8 552.76,191.79 555.35,192.79 557.95,193.78 560.55,194.78 563.15,195.79 565.75,196.79 568.35,197.8 570.95,198.81 573.55,199.82 576.15,200.84 578.75,201.86 581.35,202.88 583.94,203.91 586.54,204.94 589.14,205.97 591.74,207.01 594.34,208.05 596.94,209.09 599.54,210.14 602.14,211.19 604.74,212.24 607.34,213.3 609.94,214.36 612.53,215.43 615.13,216.5 617.73,217.57 620.33,218.65 622.93,219.73 625.53,220.82 628.13,221.91 630.73,222.99 633.33,224.08 635.93,225.17 638.53,226.25 641.12,227.33 643.72,228.41 646.32,229.48 648.92,230.54 651.52,231.6 654.12,232.65 656.72,233.68 659.32,234.71 661.92,235.72 664.52,236.72 667.12,237.71 669.71,238.68 672.31,239.63 674.91,240.57 677.51,241.48 680.11,242.38 682.71,243.25 685.31,244.1 687.91,244.92 690.51,245.72 693.11,246.49 695.71,247.24 698.3,247.95 700.9,248.63 703.5,249.27 706.1,249.88 708.7,250.46 711.3,251 713.18,251.37 715.05,251.74 716.93,252.09 718.81,252.44 720.69,252.78 722.56,253.12 724.44,253.44 726.32,253.76 728.19,254.07 730.07,254.37 731.95,254.66 733.83,254.93 735.7,255.2 737.58,255.46 739.46,255.7 741.34,255.93 743.21,256.15 745.09,256.36 746.97,256.57 748.84,256.76 750.72,256.95 752.6,257.14 754.48,257.33 756.35,257.52 758.23,257.71 760.11,257.91 761.98,258.11 763.86,258.33 765.74,258.55 767.62,258.77 769.49,259 771.37,259.23 773.25,259.47 775.13,259.71 777,259.95 778.88,260.19 780.76,260.43 782.63,260.67 784.51,260.91 786.39,261.15 788.27,261.39 790.14,261.62 792.02,261.85 793.9,262.07 795.77,262.3 797.65,262.52 799.53,262.75 801.41,262.97 803.28,263.19 805.16,263.41 807.04,263.63 808.92,263.85 810.79,264.07 812.67,264.29 814.55,264.51 816.42,264.74 818.3,264.96 820.18,265.19 822.06,265.41 823.93,265.64 825.81,265.88 827.69,266.11 829.56,266.34 831.44,266.58 833.32,266.81 835.2,267.05 837.07,267.28 838.95,267.52 840.83,267.76 842.71,268 844.58,268.24 846.46,268.48 848.34,268.73 850.21,268.97 852.09,269.21 853.97,269.46 855.85,269.71 857.72,269.95 859.6,270.2 859.6,397.6 860.13,397.6 859.15,398.95 858.13,400.3 857.07,401.65 855.97,403 854.83,404.35 853.67,405.7 852.47,407.05 851.25,408.4 850.01,409.75 848.75,411.1 847.48,412.45 846.19,413.81 844.9,415.16 843.61,416.51 842.31,417.86 841.02,419.21 839.74,420.56 838.46,421.91 837.2,423.26 835.94,424.61 834.69,425.96 833.44,427.31 832.19,428.66 830.95,430.01 829.71,431.36 828.46,432.71 827.21,434.06 825.95,435.41 824.69,436.76 823.41,438.11 822.13,439.46 820.83,440.81 819.51,442.16 818.18,443.51 816.83,444.86 815.47,446.22 814.08,447.57 812.66,448.92 811.22,450.27 809.76,451.62 808.27,452.97 806.76,454.32 805.23,455.67 803.68,457.02 802.11,458.37 800.52,459.72 798.91,461.07 797.29,462.42 795.66,463.77 794.02,465.12 792.36,466.47 790.7,467.82 789.03,469.17 787.35,470.52 785.67,471.87 783.98,473.22 782.29,474.57 780.6,475.92 778.9,477.27 777.21,478.63 775.53,479.98 773.84,481.33 772.17,482.68 770.5,484.03 768.83,485.38 767.18,486.73 765.54,488.08 763.91,489.43 762.29,490.78 760.69,492.13 759.11,493.48 757.54,494.83 755.99,496.18 754.46,497.53 752.96,498.88 751.47,500.23 750,501.58 748.56,502.93 747.13,504.28 745.73,505.63 744.35,506.98 742.99,508.33 741.65,509.68 740.34,511.04 739.04,512.39 737.77,513.74 736.52,515.09 735.3,516.44 734.09,517.79 732.91,519.14 731.76,520.49 730.63,521.84 729.52,523.19 728.43,524.54 727.37,525.89 726.33,527.24 725.32,528.59 724.33,529.94 723.36,531.29 722.43,532.64 721.51,533.99 720.62,535.34 719.76,536.69 718.92,538.04 718.11,539.39 717.32,540.74 716.56,542.09 715.82,543.45 715.12,544.8 714.43,546.15 713.78,547.5 713.15,548.85 712.55,550.2 711.98,551.55 711.43,552.9 710.91,554.25 710.42,555.6 709.96,556.95 709.52,558.3" stroke="#70ba40" stroke-width="2.1"/>
</g>
<g stroke="#808080" stroke-width="1.3" fill="none">
<path d="M141.75 12V624.7H919.31"/>
<path d="M141.75 624.7V616.7"/>
<path d="M261.38 624.7V616.7"/>
<path d="M381 624.7V616.7"/>
<path d="M500.62 624.7V616.7"/>
<path d="M620.25 624.7V616.7"/>
<path d="M739.88 624.7V616.7"/>
<path d="M859.5 624.7V616.7"/>
<path d="M141.75 36.9H149.75"/>
<path d="M141.75 160.4H149.75"/>
<path d="M141.75 283.9H149.75"/>
<path d="M141.75 407.4H149.75"/>
<path d="M141.75 530.9H149.75"/>
</g>
<g fill="#404040" font-family="Liberation Sans, Arial, Helvetica, sans-serif" font-size="33">
<text x="141.75" y="668.2" text-anchor="middle">0</text>
<text x="261.38" y="668.2" text-anchor="middle">100</text>
<text x="381" y="668.2" text-anchor="middle">200</text>
<text x="500.62" y="668.2" text-anchor="middle">300</text>
<text x="620.25" y="668.2" text-anchor="middle">400</text>
<text x="739.88" y="668.2" text-anchor="middle">500</text>
<text x="859.5" y="668.2" text-anchor="middle">600</text>
<text x="130.25" y="49.7" text-anchor="end">1000</text>
<text x="130.25" y="173.2" text-anchor="end">500</text>
<text x="130.25" y="296.7" text-anchor="end">0</text>
<text x="130.25" y="420.2" text-anchor="end">-500</text>
<text x="130.25" y="543.7" text-anchor="end">-1000</text>
</g>
<path d="M728.25 49.2H793.85" stroke="#0068b4" stroke-width="3.7" fill="none"/>
<text x="802.75" y="61.5" font-family="Liberation Sans, Arial, Helvetica, sans-serif" font-size="33.5" fill="#1a1a1a">0 km</text>
<path d="M728.25 98.6H793.85" stroke="#b73218" stroke-width="3.7" fill="none"/>
<text x="802.75" y="110.9" font-family="Liberation Sans, Arial, Helvetica, sans-serif" font-size="33.5" fill="#1a1a1a">10 km</text>
<path d="M728.25 148H793.85" stroke="#70ba40" stroke-width="3.7" fill="none"/>
<text x="802.75" y="160.3" font-family="Liberation Sans, Arial, Helvetica, sans-serif" font-size="33.5" fill="#1a1a1a">50 km</text>
<text x="185.75" y="32.3" font-family="Liberation Sans, Arial, Helvetica, sans-serif" font-size="38" font-weight="bold" fill="#000">a</text>
<text x="476.8" y="706.7" font-family="Liberation Serif, Times New Roman, serif" font-size="38" font-style="italic" fill="#404040" textLength="18.2" lengthAdjust="spacingAndGlyphs">x</text>
<text x="510.4" y="706.7" font-family="Liberation Serif, Times New Roman, serif" font-size="38" fill="#404040" textLength="73" lengthAdjust="spacingAndGlyphs">(km)</text>
<text transform="translate(26.8,0) rotate(-90)" x="-389.3" y="0" font-family="Liberation Serif, Times New Roman, serif" font-size="38" fill="#404040" font-style="italic" textLength="22.5" lengthAdjust="spacingAndGlyphs">S</text>
<text transform="translate(26.8,0) rotate(-90)" x="-362.6" y="0" font-family="Liberation Serif, Times New Roman, serif" font-size="38" fill="#404040" textLength="3.6" lengthAdjust="spacingAndGlyphs">,</text>
<text transform="translate(26.8,0) rotate(-90)" x="-343.4" y="0" font-family="Liberation Serif, Times New Roman, serif" font-size="38" fill="#404040" font-style="italic" textLength="26.2" lengthAdjust="spacingAndGlyphs">B</text>
<text transform="translate(26.8,0) rotate(-90)" x="-301.6" y="0" font-family="Liberation Serif, Times New Roman, serif" font-size="38" fill="#404040" textLength="54.2" lengthAdjust="spacingAndGlyphs">(m)</text>
<defs><clipPath id="cb"><rect x="1094.55" y="8" width="778.56" height="616.7"/></clipPath></defs>
<g clip-path="url(#cb)" fill="none" stroke-linejoin="round">
<path d="M1812.3 283.9H1872.11" stroke="#58c0ed" stroke-width="2" stroke-dasharray="18.3,10.9"/>
<polyline points="1094.55,444.42 1097.01,444.37 1099.46,444.34 1101.92,444.34 1104.37,444.36 1106.83,444.41 1109.28,444.47 1111.74,444.56 1114.2,444.67 1116.65,444.8 1119.11,444.95 1121.56,445.12 1124.02,445.31 1126.47,445.53 1128.93,445.76 1131.39,446.01 1133.84,446.29 1136.3,446.58 1138.75,446.89 1141.21,447.22 1143.66,447.57 1146.12,447.94 1148.58,448.32 1151.03,448.72 1153.49,449.14 1155.94,449.58 1158.4,450.03 1160.85,450.5 1163.31,450.99 1165.76,451.5 1168.22,452.01 1170.68,452.55 1173.13,453.1 1175.59,453.66 1178.04,454.24 1180.5,454.84 1182.95,455.45 1185.41,456.07 1187.87,456.71 1190.32,457.36 1192.78,458.02 1195.23,458.7 1197.69,459.39 1200.14,460.09 1202.6,460.8 1205.06,461.53 1207.51,462.26 1209.97,463.01 1212.42,463.77 1214.88,464.54 1217.33,465.32 1219.79,466.11 1222.25,466.91 1224.7,467.72 1227.16,468.54 1229.61,469.37 1232.07,470.21 1234.52,471.06 1236.98,471.91 1239.44,472.78 1241.89,473.65 1244.35,474.53 1246.8,475.41 1249.26,476.31 1251.71,477.21 1254.17,478.11 1256.63,479.03 1259.08,479.95 1261.54,480.87 1263.99,481.8 1266.45,482.74 1268.9,483.68 1271.36,484.62 1273.82,485.57 1276.27,486.53 1278.73,487.49 1281.18,488.45 1283.64,489.41 1286.09,490.38 1288.55,491.35 1291,492.33 1293.46,493.3 1295.92,494.28 1298.37,495.26 1300.83,496.24 1303.28,497.22 1305.74,498.21 1308.19,499.19 1310.65,500.17 1313.11,501.16 1315.56,502.14 1318.02,503.13 1320.47,504.11 1322.93,505.09 1325.38,506.08 1327.84,507.06 1330.3,508.03 1332.75,509.01 1335.21,509.99 1337.66,510.96 1340.12,511.93 1342.57,512.89 1345.03,513.86 1347.49,514.81 1349.94,515.77 1352.4,516.72 1354.85,517.67 1357.31,518.61 1359.76,519.55 1362.22,520.48 1364.68,521.41 1367.13,522.33 1369.59,523.25 1372.04,524.15 1374.5,525.06 1376.95,525.96 1379.41,526.85 1381.87,527.73 1384.32,528.61 1386.78,529.48 1389.23,530.35 1391.69,531.21 1394.14,532.06 1396.6,532.9 1399.06,533.74 1401.51,534.57 1403.97,535.39 1406.42,536.2 1408.88,537.01 1411.33,537.81 1413.79,538.6 1416.24,539.38 1418.7,540.15 1421.16,540.92 1423.61,541.68 1426.07,542.42 1428.52,543.16 1430.98,543.89 1433.43,544.61 1435.89,545.33 1438.35,546.03 1440.8,546.72 1443.26,547.41 1445.71,548.08 1448.17,548.75 1450.62,549.4 1453.08,550.04 1455.54,550.68 1457.99,551.3 1460.45,551.92 1462.9,552.52 1465.36,553.11 1467.81,553.69 1470.27,554.26 1472.73,554.82 1475.18,555.37 1477.64,555.91 1480.09,556.43 1482.55,556.95 1485,557.45 1487.46,557.94 1489.92,558.42 1492.37,558.88 1494.83,559.34 1497.28,559.78 1499.74,560.21 1502.19,560.63 1504.65,561.03 1507.11,561.42 1509.56,561.8 1512.02,562.16 1514.47,562.51 1516.93,562.85 1519.38,563.18 1521.84,563.49 1524.29,563.79 1526.75,564.07 1529.21,564.34 1531.66,564.6 1534.12,564.84 1536.57,565.06 1539.03,565.28 1541.48,565.47 1543.94,565.66 1546.4,565.83 1548.85,565.98 1551.31,566.12 1553.76,566.24 1556.22,566.35 1558.67,566.44 1561.13,566.52 1563.59,566.58 1566.04,566.62 1568.5,566.65 1570.95,566.66 1573.41,566.66 1575.86,566.64 1578.32,566.6 1580.78,566.55 1583.23,566.48 1585.69,566.39 1588.14,566.29 1590.6,566.17 1593.05,566.03 1595.51,565.88 1597.97,565.7 1600.42,565.51 1602.88,565.31 1605.33,565.08 1607.79,564.85 1610.24,564.6 1612.7,564.34 1615.16,564.07 1617.61,563.79 1620.07,563.51 1622.52,563.21 1624.98,562.91 1627.43,562.61 1629.89,562.3 1632.35,561.99 1634.8,561.68 1637.26,561.37 1639.71,561.06 1642.17,560.75 1644.62,560.44 1647.08,560.14 1649.53,559.85 1651.99,559.56 1654.45,559.29 1656.9,559.02 1659.36,558.76 1661.81,558.51 1664.27,558.28 1666.72,558.06 1669.18,557.85 1671.64,557.66 1674.09,557.49 1676.55,557.34 1679,557.21 1681.46,557.09 1683.91,557 1686.37,556.94 1688.83,556.9 1691.28,556.88 1693.74,556.89 1696.19,556.93 1698.65,557 1701.1,557.09 1703.56,557.22 1706.02,557.38 1708.47,557.58 1710.93,557.81 1713.38,558.08 1715.84,558.38 1718.29,558.72 1720.75,559.1 1723.21,559.52 1725.66,559.99 1728.12,560.49 1730.57,561.04 1733.03,561.64 1735.48,562.28 1737.94,562.97 1740.4,563.71 1742.85,564.5 1745.31,565.34 1747.76,566.23 1750.22,567.18 1752.67,568.18 1755.13,569.24 1757.59,570.35 1760.04,571.51 1762.5,572.74 1764.95,574.02 1767.41,575.36 1769.86,576.75 1772.32,578.21 1774.77,579.72 1777.23,581.29 1779.69,582.92 1782.14,584.62 1784.6,586.37 1787.05,588.18 1789.51,590.06 1791.96,592 1794.42,594 1796.88,596.06 1799.33,598.19 1801.79,600.38 1804.24,602.64 1806.7,604.96 1809.15,607.35 1811.61,609.8 1814.07,612.32 1816.52,614.88 1818.98,617.48 1821.43,620.09 1823.89,622.71 1826.34,625.31 1828.8,627.88" stroke="#000" stroke-width="2"/>
<polyline points="1094.7,76.2 1097.32,76.41 1099.95,76.64 1102.57,76.88 1105.2,77.15 1107.82,77.43 1110.45,77.72 1113.07,78.04 1115.7,78.36 1118.32,78.71 1120.95,79.07 1123.57,79.44 1126.2,79.83 1128.82,80.23 1131.45,80.65 1134.07,81.07 1136.69,81.52 1139.32,81.97 1141.94,82.44 1144.57,82.92 1147.19,83.41 1149.82,83.91 1152.44,84.43 1155.07,84.95 1157.69,85.48 1160.32,86.03 1162.94,86.58 1165.57,87.15 1168.19,87.72 1170.82,88.3 1173.44,88.89 1176.06,89.49 1178.69,90.09 1181.31,90.7 1183.94,91.32 1186.56,91.95 1189.19,92.58 1191.81,93.22 1194.44,93.86 1197.06,94.51 1199.69,95.17 1202.31,95.82 1204.94,96.49 1207.56,97.15 1210.18,97.82 1212.81,98.5 1215.43,99.17 1218.06,99.85 1220.68,100.53 1223.31,101.21 1225.93,101.9 1228.56,102.58 1231.18,103.27 1233.81,103.95 1236.43,104.64 1239.06,105.33 1241.68,106.01 1244.31,106.7 1246.93,107.38 1249.55,108.06 1252.18,108.74 1254.8,109.42 1257.43,110.09 1260.05,110.76 1262.68,111.43 1265.3,112.1 1267.93,112.76 1270.55,113.42 1273.18,114.07 1275.8,114.73 1278.43,115.38 1281.05,116.03 1283.68,116.68 1286.3,117.33 1288.92,117.97 1291.55,118.62 1294.17,119.27 1296.8,119.92 1299.42,120.57 1302.05,121.22 1304.67,121.87 1307.3,122.52 1309.92,123.18 1312.55,123.84 1315.17,124.5 1317.8,125.17 1320.42,125.84 1323.05,126.52 1325.67,127.2 1328.29,127.88 1330.92,128.57 1333.54,129.27 1336.17,129.97 1338.79,130.68 1341.42,131.39 1344.04,132.12 1346.67,132.85 1349.29,133.59 1351.92,134.33 1354.54,135.09 1357.17,135.85 1359.79,136.62 1362.42,137.4 1365.04,138.18 1367.66,138.98 1370.29,139.78 1372.91,140.58 1375.54,141.39 1378.16,142.21 1380.79,143.04 1383.41,143.87 1386.04,144.7 1388.66,145.55 1391.29,146.39 1393.91,147.24 1396.54,148.1 1399.16,148.96 1401.78,149.83 1404.41,150.7 1407.03,151.58 1409.66,152.46 1412.28,153.34 1414.91,154.23 1417.53,155.12 1420.16,156.01 1422.78,156.9 1425.41,157.8 1428.03,158.7 1430.66,159.61 1433.28,160.52 1435.91,161.42 1438.53,162.33 1441.15,163.25 1443.78,164.16 1446.4,165.07 1449.03,165.99 1451.65,166.91 1454.28,167.82 1456.9,168.74 1459.53,169.66 1462.15,170.58 1464.78,171.5 1467.4,172.42 1470.03,173.33 1472.65,174.25 1475.28,175.17 1477.9,176.08 1480.52,177 1483.15,177.91 1485.77,178.82 1488.4,179.73 1491.02,180.64 1493.65,181.54 1496.27,182.45 1498.9,183.35 1501.52,184.25 1504.15,185.14 1506.77,186.04 1509.4,186.93 1512.02,187.83 1514.65,188.72 1517.27,189.61 1519.89,190.51 1522.52,191.4 1525.14,192.3 1527.77,193.19 1530.39,194.09 1533.02,194.99 1535.64,195.89 1538.27,196.8 1540.89,197.71 1543.52,198.62 1546.14,199.53 1548.77,200.45 1551.39,201.37 1554.02,202.3 1556.64,203.23 1559.26,204.17 1561.89,205.11 1564.51,206.06 1567.14,207.02 1569.76,207.98 1572.39,208.95 1575.01,209.92 1577.64,210.9 1580.26,211.89 1582.89,212.89 1585.51,213.89 1588.14,214.9 1590.76,215.92 1593.38,216.94 1596.01,217.97 1598.63,219.01 1601.26,220.06 1603.88,221.11 1606.51,222.17 1609.13,223.24 1611.76,224.32 1614.38,225.4 1617.01,226.49 1619.63,227.59 1622.26,228.7 1624.88,229.82 1627.51,230.94 1630.13,232.07 1632.75,233.21 1635.38,234.35 1638,235.51 1640.63,236.67 1643.25,237.84 1645.88,239.02 1648.5,240.21 1651.13,241.4 1653.75,242.61 1656.38,243.82 1659,245.04 1661.63,246.27 1664.25,247.51 1666.88,248.75 1669.5,250.01 1671.31,250.41 1673.12,250.8 1674.93,251.18 1676.74,251.53 1678.54,251.87 1680.35,252.27 1682.16,252.74 1683.97,253.18 1685.78,253.58 1687.59,253.95 1689.4,254.29 1691.21,254.58 1693.02,254.84 1694.82,255.08 1696.63,255.31 1698.44,255.51 1700.25,255.71 1702.06,255.89 1703.87,256.07 1705.68,256.24 1707.49,256.41 1709.29,256.58 1711.1,256.75 1712.91,256.93 1714.72,257.11 1716.53,257.31 1718.34,257.52 1720.15,257.74 1721.96,257.96 1723.77,258.18 1725.57,258.41 1727.38,258.64 1729.19,258.87 1731,259.1 1732.81,259.34 1734.62,259.57 1736.43,259.8 1738.24,260.03 1740.05,260.26 1741.85,260.48 1743.66,260.71 1745.47,260.93 1747.28,261.14 1749.09,261.36 1750.9,261.58 1752.71,261.79 1754.52,262 1756.33,262.22 1758.13,262.43 1759.94,262.64 1761.75,262.85 1763.56,263.07 1765.37,263.28 1767.18,263.49 1768.99,263.71 1770.8,263.93 1772.61,264.14 1774.41,264.36 1776.22,264.58 1778.03,264.8 1779.84,265.03 1781.65,265.25 1783.46,265.48 1785.27,265.7 1787.08,265.93 1788.88,266.16 1790.69,266.39 1792.5,266.62 1794.31,266.85 1796.12,267.08 1797.93,267.31 1799.74,267.55 1801.55,267.78 1803.36,268.01 1805.16,268.25 1806.97,268.49 1808.78,268.72 1810.59,268.96 1812.4,269.2" stroke="#0068b4" stroke-width="2.4" stroke-dasharray="18.5,10.5"/>
<polyline points="1813.23,397.6 1812.35,398.95 1811.43,400.3 1810.46,401.65 1809.46,403 1808.42,404.35 1807.35,405.7 1806.26,407.05 1805.13,408.4 1803.99,409.75 1802.83,411.1 1801.65,412.45 1800.46,413.81 1799.26,415.16 1798.06,416.51 1796.86,417.86 1795.67,419.21 1794.48,420.56 1793.3,421.91 1792.12,423.26 1790.96,424.61 1789.8,425.96 1788.65,427.31 1787.5,428.66 1786.35,430.01 1785.2,431.36 1784.05,432.71 1782.89,434.06 1781.73,435.41 1780.56,436.76 1779.38,438.11 1778.19,439.46 1776.98,440.81 1775.76,442.16 1774.53,443.51 1773.27,444.86 1772,446.22 1770.71,447.57 1769.39,448.92 1768.04,450.27 1766.67,451.62 1765.27,452.97 1763.85,454.32 1762.41,455.67 1760.94,457.02 1759.46,458.37 1757.97,459.72 1756.45,461.07 1754.92,462.42 1753.38,463.77 1751.83,465.12 1750.26,466.47 1748.69,467.82 1747.36,469.17 1746.07,470.52 1744.78,471.87 1743.48,473.22 1742.18,474.57 1740.87,475.92 1739.47,477.27 1738.06,478.63 1736.66,479.98 1735.25,481.33 1733.86,482.68 1732.47,484.03 1731.09,485.38 1729.72,486.73 1728.34,488.08 1726.79,489.43 1725.26,490.78 1723.73,492.13 1722.23,493.48 1720.74,494.83 1719.27,496.18 1717.82,497.53 1716.4,498.88 1714.99,500.23 1713.6,501.58 1712.23,502.93 1710.89,504.28 1709.58,505.63 1708.3,506.98 1707.05,508.33 1705.81,509.68 1704.6,511.04 1703.41,512.39 1702.24,513.74 1701.1,515.09 1699.98,516.44 1698.88,517.79 1697.65,519.14 1696.41,520.49 1695.2,521.84 1694.01,523.19 1692.85,524.54 1691.71,525.89 1690.59,527.24 1689.5,528.59 1688.43,529.94 1687.44,531.29 1686.47,532.64 1685.53,533.99 1684.62,535.34 1683.72,536.69 1682.86,538.04 1682.02,539.39 1681.2,540.74 1680.42,542.09 1679.66,543.45 1678.92,544.8 1678.01,546.15 1677.1,547.5 1676.21,548.85 1675.35,550.2 1674.52,551.55 1673.71,552.9 1672.93,554.25 1672.18,555.6 1671.46,556.95 1670.82,558.3" stroke="#0068b4" stroke-width="2.4" stroke-dasharray="18.5,10.5"/>
<polyline points="1094.7,79.9 1097.3,80.12 1099.9,80.36 1102.49,80.61 1105.09,80.89 1107.69,81.17 1110.29,81.48 1112.89,81.8 1115.49,82.13 1118.08,82.48 1120.68,82.84 1123.28,83.22 1125.88,83.61 1128.48,84.02 1131.07,84.44 1133.67,84.87 1136.27,85.32 1138.87,85.78 1141.47,86.25 1144.07,86.73 1146.66,87.22 1149.26,87.72 1151.86,88.24 1154.46,88.76 1157.06,89.3 1159.65,89.85 1162.25,90.4 1164.85,90.97 1167.45,91.54 1170.05,92.12 1172.65,92.71 1175.24,93.31 1177.84,93.92 1180.44,94.53 1183.04,95.15 1185.64,95.78 1188.23,96.41 1190.83,97.05 1193.43,97.7 1196.03,98.35 1198.63,99.01 1201.23,99.67 1203.82,100.34 1206.42,101.01 1209.02,101.68 1211.62,102.36 1214.22,103.04 1216.81,103.72 1219.41,104.41 1222.01,105.1 1224.61,105.79 1227.21,106.48 1229.81,107.17 1232.4,107.87 1235,108.56 1237.6,109.26 1240.2,109.96 1242.8,110.65 1245.39,111.35 1247.99,112.04 1250.59,112.74 1253.19,113.43 1255.79,114.12 1258.38,114.81 1260.98,115.49 1263.58,116.18 1266.18,116.86 1268.78,117.53 1271.38,118.21 1273.97,118.88 1276.57,119.55 1279.17,120.22 1281.77,120.89 1284.37,121.55 1286.96,122.22 1289.56,122.88 1292.16,123.55 1294.76,124.21 1297.36,124.87 1299.96,125.54 1302.55,126.2 1305.15,126.87 1307.75,127.53 1310.35,128.2 1312.95,128.87 1315.54,129.54 1318.14,130.21 1320.74,130.89 1323.34,131.56 1325.94,132.24 1328.54,132.93 1331.13,133.61 1333.73,134.3 1336.33,134.99 1338.93,135.69 1341.53,136.39 1344.12,137.1 1346.72,137.81 1349.32,138.52 1351.92,139.24 1354.52,139.97 1357.12,140.7 1359.71,141.44 1362.31,142.18 1364.91,142.93 1367.51,143.69 1370.11,144.45 1372.7,145.22 1375.3,146 1377.9,146.79 1380.5,147.58 1383.1,148.38 1385.7,149.19 1388.29,150.01 1390.89,150.83 1393.49,151.67 1396.09,152.52 1398.69,153.37 1401.28,154.23 1403.88,155.11 1406.48,155.99 1409.08,156.89 1411.68,157.79 1414.28,158.71 1416.87,159.64 1419.47,160.57 1422.07,161.52 1424.67,162.47 1427.27,163.44 1429.86,164.4 1432.46,165.38 1435.06,166.36 1437.66,167.34 1440.26,168.33 1442.86,169.31 1445.45,170.3 1448.05,171.3 1450.65,172.29 1453.25,173.28 1455.85,174.27 1458.44,175.25 1461.04,176.23 1463.64,177.21 1466.24,178.19 1468.84,179.16 1471.44,180.12 1474.03,181.07 1476.63,182.02 1479.23,182.95 1481.83,183.88 1484.43,184.8 1487.02,185.7 1489.62,186.6 1492.22,187.48 1494.82,188.34 1497.42,189.19 1500.02,190.03 1502.61,190.86 1505.21,191.67 1507.81,192.48 1510.41,193.27 1513.01,194.06 1515.6,194.84 1518.2,195.62 1520.8,196.4 1523.4,197.17 1526,197.94 1528.59,198.72 1531.19,199.49 1533.79,200.27 1536.39,201.06 1538.99,201.85 1541.59,202.65 1544.18,203.45 1546.78,204.27 1549.38,205.1 1551.98,205.94 1554.58,206.79 1557.17,207.66 1559.77,208.55 1562.37,209.45 1564.97,210.37 1567.57,211.32 1570.17,212.28 1572.76,213.27 1575.36,214.28 1577.96,215.31 1580.56,216.36 1583.16,217.43 1585.75,218.51 1588.35,219.6 1590.95,220.71 1593.55,221.83 1596.15,222.96 1598.75,224.1 1601.34,225.24 1603.94,226.39 1606.54,227.54 1609.14,228.7 1611.74,229.85 1614.33,231.01 1616.93,232.16 1619.53,233.31 1622.13,234.46 1624.73,235.59 1627.33,236.72 1629.92,237.84 1632.52,238.95 1635.12,240.05 1637.72,241.13 1640.32,242.19 1642.91,243.23 1645.51,244.24 1648.11,245.22 1650.71,246.17 1653.31,247.07 1655.91,247.93 1658.5,248.74 1661.1,249.5 1663.7,250.21 1665.58,249.88 1667.46,250.34 1669.35,250.79 1671.23,251.23 1673.11,251.65 1674.99,252.1 1676.88,252.54 1678.76,252.97 1680.64,253.38 1682.52,253.77 1684.41,254.14 1686.29,254.48 1688.17,254.81 1690.05,255.1 1691.93,255.38 1693.82,255.63 1695.7,255.86 1697.58,256.08 1699.46,256.29 1701.35,256.49 1703.23,256.67 1705.11,256.86 1706.99,257.04 1708.87,257.22 1710.76,257.4 1712.64,257.59 1714.52,257.79 1716.4,258 1718.29,258.22 1720.17,258.44 1722.05,258.67 1723.93,258.9 1725.82,259.14 1727.7,259.38 1729.58,259.62 1731.46,259.86 1733.34,260.11 1735.23,260.35 1737.11,260.59 1738.99,260.83 1740.87,261.06 1742.76,261.29 1744.64,261.52 1746.52,261.75 1748.4,261.98 1750.28,262.2 1752.17,262.43 1754.05,262.65 1755.93,262.87 1757.81,263.09 1759.7,263.31 1761.58,263.53 1763.46,263.76 1765.34,263.98 1767.23,264.2 1769.11,264.42 1770.99,264.65 1772.87,264.87 1774.75,265.1 1776.64,265.33 1778.52,265.56 1780.4,265.8 1782.28,266.03 1784.17,266.27 1786.05,266.5 1787.93,266.74 1789.81,266.98 1791.69,267.22 1793.58,267.46 1795.46,267.7 1797.34,267.94 1799.22,268.18 1801.11,268.42 1802.99,268.67 1804.87,268.91 1806.75,269.16 1808.64,269.4 1810.52,269.65 1812.4,269.9" stroke="#b73218" stroke-width="2" stroke-dasharray="18.5,10.5"/>
<polyline points="1812.93,397.6 1812.06,398.95 1811.15,400.3 1810.2,401.65 1809.2,403 1808.18,404.35 1807.12,405.7 1806.03,407.05 1804.92,408.4 1803.79,409.75 1802.61,411.1 1801.4,412.45 1800.18,413.81 1798.96,415.16 1797.73,416.51 1796.51,417.86 1795.28,419.21 1794.07,420.56 1792.86,421.91 1791.66,423.26 1790.47,424.61 1789.28,425.96 1788.1,427.31 1786.93,428.66 1785.75,430.01 1784.57,431.36 1783.4,432.71 1782.21,434.06 1781.02,435.41 1779.82,436.76 1778.62,438.11 1777.4,439.46 1776.17,440.81 1774.92,442.16 1773.66,443.51 1772.38,444.86 1771.08,446.22 1769.75,447.57 1768.41,448.92 1767.04,450.27 1765.63,451.62 1764.2,452.97 1762.75,454.32 1761.28,455.67 1759.79,457.02 1758.28,458.37 1756.75,459.72 1755.21,461.07 1753.65,462.42 1752.07,463.77 1750.49,465.12 1748.9,466.47 1747.29,467.82 1745.7,469.17 1744.11,470.52 1742.51,471.87 1740.9,473.22 1739.3,474.57 1737.69,475.92 1736.08,477.27 1734.47,478.63 1732.86,479.98 1731.25,481.33 1729.66,482.68 1728.06,484.03 1726.48,485.38 1724.91,486.73 1723.34,488.08 1721.79,489.43 1720.26,490.78 1718.73,492.13 1717.23,493.48 1715.74,494.83 1714.27,496.18 1712.82,497.53 1711.4,498.88 1709.99,500.23 1708.6,501.58 1707.23,502.93 1705.89,504.28 1704.56,505.63 1703.24,506.98 1701.94,508.33 1700.67,509.68 1699.41,511.04 1698.18,512.39 1696.97,513.74 1695.79,515.09 1694.63,516.44 1693.48,517.79 1692.33,519.14 1691.2,520.49 1690.09,521.84 1689,523.19 1687.94,524.54 1686.9,525.89 1685.89,527.24 1684.89,528.59 1683.93,529.94 1682.9,531.29 1681.88,532.64 1680.9,533.99 1679.94,535.34 1679,536.69 1678.09,538.04 1677.21,539.39 1676.35,540.74 1675.51,542.09 1674.71,543.45 1673.93,544.8 1673.01,546.15 1672.1,547.5 1671.21,548.85 1670.35,550.2 1669.52,551.55 1668.71,552.9 1667.93,554.25 1667.18,555.6 1666.46,556.95 1665.82,558.3" stroke="#b73218" stroke-width="2.4" stroke-dasharray="18.5,10.5"/>
<polyline points="1094.7,86 1097.3,86.26 1099.9,86.54 1102.5,86.83 1105.1,87.13 1107.7,87.44 1110.31,87.77 1112.91,88.11 1115.51,88.46 1118.11,88.83 1120.71,89.21 1123.31,89.6 1125.91,90 1128.51,90.41 1131.11,90.83 1133.71,91.27 1136.31,91.71 1138.92,92.16 1141.52,92.63 1144.12,93.1 1146.72,93.59 1149.32,94.08 1151.92,94.58 1154.52,95.1 1157.12,95.62 1159.72,96.15 1162.32,96.68 1164.92,97.23 1167.53,97.78 1170.13,98.35 1172.73,98.91 1175.33,99.49 1177.93,100.07 1180.53,100.66 1183.13,101.26 1185.73,101.86 1188.33,102.47 1190.93,103.09 1193.53,103.71 1196.14,104.33 1198.74,104.96 1201.34,105.6 1203.94,106.24 1206.54,106.89 1209.14,107.53 1211.74,108.19 1214.34,108.85 1216.94,109.51 1219.54,110.17 1222.14,110.84 1224.75,111.51 1227.35,112.18 1229.95,112.86 1232.55,113.54 1235.15,114.22 1237.75,114.9 1240.35,115.58 1242.95,116.26 1245.55,116.95 1248.15,117.64 1250.75,118.32 1253.36,119.01 1255.96,119.7 1258.56,120.39 1261.16,121.08 1263.76,121.76 1266.36,122.45 1268.96,123.14 1271.56,123.82 1274.16,124.51 1276.76,125.19 1279.36,125.88 1281.97,126.57 1284.57,127.26 1287.17,127.95 1289.77,128.64 1292.37,129.33 1294.97,130.02 1297.57,130.72 1300.17,131.42 1302.77,132.12 1305.37,132.82 1307.97,133.53 1310.58,134.24 1313.18,134.95 1315.78,135.66 1318.38,136.38 1320.98,137.1 1323.58,137.83 1326.18,138.56 1328.78,139.3 1331.38,140.04 1333.98,140.78 1336.58,141.53 1339.19,142.29 1341.79,143.05 1344.39,143.81 1346.99,144.58 1349.59,145.36 1352.19,146.15 1354.79,146.94 1357.39,147.73 1359.99,148.54 1362.59,149.34 1365.19,150.16 1367.8,150.98 1370.4,151.8 1373,152.63 1375.6,153.46 1378.2,154.3 1380.8,155.15 1383.4,156 1386,156.85 1388.6,157.71 1391.2,158.57 1393.81,159.44 1396.41,160.31 1399.01,161.19 1401.61,162.06 1404.21,162.95 1406.81,163.83 1409.41,164.72 1412.01,165.62 1414.61,166.51 1417.21,167.41 1419.81,168.32 1422.42,169.22 1425.02,170.13 1427.62,171.04 1430.22,171.96 1432.82,172.87 1435.42,173.79 1438.02,174.71 1440.62,175.63 1443.22,176.56 1445.82,177.49 1448.42,178.41 1451.03,179.34 1453.63,180.28 1456.23,181.21 1458.83,182.14 1461.43,183.08 1464.03,184.02 1466.63,184.95 1469.23,185.89 1471.83,186.83 1474.43,187.77 1477.03,188.71 1479.64,189.65 1482.24,190.59 1484.84,191.53 1487.44,192.47 1490.04,193.41 1492.64,194.35 1495.24,195.29 1497.84,196.23 1500.44,197.17 1503.04,198.1 1505.64,199.04 1508.25,199.98 1510.85,200.91 1513.45,201.84 1516.05,202.78 1518.65,203.71 1521.25,204.63 1523.85,205.56 1526.45,206.49 1529.05,207.41 1531.65,208.33 1534.25,209.25 1536.86,210.17 1539.46,211.08 1542.06,211.99 1544.66,212.9 1547.26,213.81 1549.86,214.71 1552.46,215.61 1555.06,216.51 1557.66,217.4 1560.26,218.29 1562.86,219.18 1565.47,220.06 1568.07,220.94 1570.67,221.81 1573.27,222.69 1575.87,223.56 1578.47,224.43 1581.07,225.32 1583.67,226.21 1586.27,227.08 1588.87,227.96 1591.47,228.86 1594.08,229.78 1596.68,230.72 1599.28,231.68 1601.88,232.66 1604.48,233.65 1607.08,234.64 1609.68,235.64 1612.28,236.64 1614.88,237.63 1617.48,238.61 1620.08,239.58 1622.69,240.53 1625.29,241.46 1627.89,242.36 1630.49,243.24 1633.09,244.08 1635.69,244.89 1638.29,245.66 1640.89,246.39 1643.49,247.08 1646.09,247.73 1648.69,248.34 1651.3,248.9 1653.9,249.42 1656.5,249.89 1659.1,250.31 1661.7,250.68 1664.3,251 1666.17,251.37 1668.05,251.74 1669.92,252.1 1671.8,252.45 1673.67,252.8 1675.55,253.13 1677.42,253.46 1679.3,253.78 1681.17,254.09 1683.05,254.39 1684.92,254.68 1686.8,254.96 1688.67,255.22 1690.55,255.48 1692.42,255.72 1694.29,255.95 1696.17,256.17 1698.04,256.38 1699.92,256.58 1701.79,256.78 1703.67,256.97 1705.54,257.16 1707.42,257.35 1709.29,257.54 1711.17,257.73 1713.04,257.93 1714.92,258.13 1716.79,258.34 1718.67,258.56 1720.54,258.79 1722.42,259.02 1724.29,259.25 1726.16,259.49 1728.04,259.72 1729.91,259.96 1731.79,260.21 1733.66,260.45 1735.54,260.69 1737.41,260.93 1739.29,261.16 1741.16,261.4 1743.04,261.63 1744.91,261.86 1746.79,262.08 1748.66,262.31 1750.54,262.53 1752.41,262.75 1754.28,262.98 1756.16,263.2 1758.03,263.42 1759.91,263.64 1761.78,263.86 1763.66,264.08 1765.53,264.3 1767.41,264.52 1769.28,264.74 1771.16,264.97 1773.03,265.19 1774.91,265.42 1776.78,265.65 1778.66,265.88 1780.53,266.11 1782.41,266.35 1784.28,266.58 1786.15,266.82 1788.03,267.05 1789.9,267.29 1791.78,267.53 1793.65,267.77 1795.53,268 1797.4,268.25 1799.28,268.49 1801.15,268.73 1803.03,268.97 1804.9,269.22 1806.78,269.46 1808.65,269.71 1810.53,269.95 1812.4,270.2" stroke="#70ba40" stroke-width="2.4" stroke-dasharray="18.5,10.5"/>
<polyline points="1812.93,397.6 1812.04,398.95 1811.11,400.3 1810.13,401.65 1809.12,403 1808.07,404.35 1806.99,405.7 1805.88,407.05 1804.75,408.4 1803.59,409.75 1802.39,411.1 1801.16,412.45 1799.93,413.81 1798.68,415.16 1797.44,416.51 1796.19,417.86 1794.94,419.21 1793.71,420.56 1792.48,421.91 1791.26,423.26 1790.05,424.61 1788.84,425.96 1787.64,427.31 1786.45,428.66 1785.25,430.01 1784.05,431.36 1782.85,432.71 1781.65,434.06 1780.44,435.41 1779.22,436.76 1778,438.11 1776.76,439.46 1775.5,440.81 1774.24,442.16 1772.96,443.51 1771.65,444.86 1770.33,446.22 1768.99,447.57 1767.62,448.92 1766.23,450.27 1764.81,451.62 1763.35,452.97 1761.88,454.32 1760.39,455.67 1758.87,457.02 1757.34,458.37 1755.79,459.72 1754.22,461.07 1752.64,462.42 1751.05,463.77 1749.44,465.12 1747.82,466.47 1746.19,467.82 1744.57,469.17 1742.94,470.52 1741.31,471.87 1739.67,473.22 1738.03,474.57 1736.39,475.92 1734.74,477.27 1733.08,478.63 1731.43,479.98 1729.78,481.33 1728.13,482.68 1726.5,484.03 1724.87,485.38 1723.25,486.73 1721.64,488.08 1720.05,489.43 1718.47,490.78 1716.91,492.13 1715.37,493.48 1713.84,494.83 1712.33,496.18 1710.84,497.53 1709.38,498.88 1707.93,500.23 1706.5,501.58 1705.1,502.93 1703.71,504.28 1702.34,505.63 1700.98,506.98 1699.64,508.33 1698.32,509.68 1697.03,511.04 1695.76,512.39 1694.51,513.74 1693.28,515.09 1692.07,516.44 1690.89,517.79 1689.76,519.14 1688.66,520.49 1687.59,521.84 1686.53,523.19 1685.5,524.54 1684.5,525.89 1683.52,527.24 1682.56,528.59 1681.63,529.94 1680.54,531.29 1679.46,532.64 1678.41,533.99 1677.39,535.34 1676.39,536.69 1675.42,538.04 1674.47,539.39 1673.55,540.74 1672.65,542.09 1671.78,543.45 1670.94,544.8 1670.01,546.15 1669.1,547.5 1668.21,548.85 1667.35,550.2 1666.52,551.55 1665.71,552.9 1664.93,554.25 1664.18,555.6 1663.46,556.95 1662.82,558.3" stroke="#70ba40" stroke-width="2.4" stroke-dasharray="18.5,10.5"/>
<polyline points="1094.7,76.2 1097.32,76.41 1099.95,76.64 1102.57,76.88 1105.2,77.15 1107.82,77.43 1110.45,77.72 1113.07,78.04 1115.7,78.36 1118.32,78.71 1120.95,79.07 1123.57,79.44 1126.2,79.83 1128.82,80.23 1131.45,80.65 1134.07,81.07 1136.69,81.52 1139.32,81.97 1141.94,82.44 1144.57,82.92 1147.19,83.41 1149.82,83.91 1152.44,84.43 1155.07,84.95 1157.69,85.48 1160.32,86.03 1162.94,86.58 1165.57,87.15 1168.19,87.72 1170.82,88.3 1173.44,88.89 1176.06,89.49 1178.69,90.09 1181.31,90.7 1183.94,91.32 1186.56,91.95 1189.19,92.58 1191.81,93.22 1194.44,93.86 1197.06,94.51 1199.69,95.17 1202.31,95.82 1204.94,96.49 1207.56,97.15 1210.18,97.82 1212.81,98.5 1215.43,99.17 1218.06,99.85 1220.68,100.53 1223.31,101.21 1225.93,101.9 1228.56,102.58 1231.18,103.27 1233.81,103.95 1236.43,104.64 1239.06,105.33 1241.68,106.01 1244.31,106.7 1246.93,107.38 1249.55,108.06 1252.18,108.74 1254.8,109.42 1257.43,110.09 1260.05,110.76 1262.68,111.43 1265.3,112.1 1267.93,112.76 1270.55,113.42 1273.18,114.07 1275.8,114.73 1278.43,115.38 1281.05,116.03 1283.68,116.68 1286.3,117.33 1288.92,117.97 1291.55,118.62 1294.17,119.27 1296.8,119.92 1299.42,120.57 1302.05,121.22 1304.67,121.87 1307.3,122.52 1309.92,123.18 1312.55,123.84 1315.17,124.5 1317.8,125.17 1320.42,125.84 1323.05,126.52 1325.67,127.2 1328.29,127.88 1330.92,128.57 1333.54,129.27 1336.17,129.97 1338.79,130.68 1341.42,131.39 1344.04,132.12 1346.67,132.85 1349.29,133.59 1351.92,134.33 1354.54,135.09 1357.17,135.85 1359.79,136.62 1362.42,137.4 1365.04,138.18 1367.66,138.98 1370.29,139.78 1372.91,140.58 1375.54,141.39 1378.16,142.21 1380.79,143.04 1383.41,143.87 1386.04,144.7 1388.66,145.55 1391.29,146.39 1393.91,147.24 1396.54,148.1 1399.16,148.96 1401.78,149.83 1404.41,150.7 1407.03,151.58 1409.66,152.46 1412.28,153.34 1414.91,154.23 1417.53,155.12 1420.16,156.01 1422.78,156.9 1425.41,157.8 1428.03,158.7 1430.66,159.61 1433.28,160.52 1435.91,161.42 1438.53,162.33 1441.15,163.25 1443.78,164.16 1446.4,165.07 1449.03,165.99 1451.65,166.91 1454.28,167.82 1456.9,168.74 1459.53,169.66 1462.15,170.58 1464.78,171.5 1467.4,172.42 1470.03,173.33 1472.65,174.25 1475.28,175.17 1477.9,176.08 1480.52,177 1483.15,177.91 1485.77,178.82 1488.4,179.73 1491.02,180.64 1493.65,181.54 1496.27,182.45 1498.9,183.35 1501.52,184.25 1504.15,185.14 1506.77,186.04 1509.4,186.93 1512.02,187.83 1514.65,188.72 1517.27,189.61 1519.89,190.51 1522.52,191.4 1525.14,192.3 1527.77,193.19 1530.39,194.09 1533.02,194.99 1535.64,195.89 1538.27,196.8 1540.89,197.71 1543.52,198.62 1546.14,199.53 1548.77,200.45 1551.39,201.37 1554.02,202.3 1556.64,203.23 1559.26,204.17 1561.89,205.11 1564.51,206.06 1567.14,207.02 1569.76,207.98 1572.39,208.95 1575.01,209.92 1577.64,210.9 1580.26,211.89 1582.89,212.89 1585.51,213.89 1588.14,214.9 1590.76,215.92 1593.38,216.94 1596.01,217.97 1598.63,219.01 1601.26,220.06 1603.88,221.11 1606.51,222.17 1609.13,223.24 1611.76,224.32 1614.38,225.4 1617.01,226.49 1619.63,227.59 1622.26,228.7 1624.88,229.82 1627.51,230.94 1630.13,232.07 1632.75,233.21 1635.38,234.35 1638,235.51 1640.63,236.67 1643.25,237.84 1645.88,239.02 1648.5,240.21 1651.13,241.4 1653.75,242.61 1656.38,243.82 1659,245.04 1661.63,246.27 1664.25,247.51 1666.88,248.75 1669.5,250.01 1671.31,250.59 1673.12,251.16 1674.93,251.72 1676.74,252.26 1678.54,252.78 1680.35,253.27 1682.16,253.74 1683.97,254.18 1685.78,254.58 1687.59,254.95 1689.4,255.29 1691.21,255.58 1693.02,255.84 1694.82,256.08 1696.63,256.31 1698.44,256.51 1700.25,256.71 1702.06,256.89 1703.87,257.07 1705.68,257.24 1707.49,257.41 1709.29,257.58 1711.1,257.75 1712.91,257.93 1714.72,258.11 1716.53,258.31 1718.34,258.52 1720.15,258.74 1721.96,258.96 1723.77,259.18 1725.57,259.41 1727.38,259.64 1729.19,259.87 1731,260.1 1732.81,260.34 1734.62,260.57 1736.43,260.8 1738.24,261.03 1740.05,261.26 1741.85,261.48 1743.66,261.71 1745.47,261.93 1747.28,262.14 1749.09,262.36 1750.9,262.58 1752.71,262.79 1754.52,263 1756.33,263.22 1758.13,263.43 1759.94,263.64 1761.75,263.85 1763.56,264.07 1765.37,264.28 1767.18,264.49 1768.99,264.71 1770.8,264.93 1772.61,265.14 1774.41,265.36 1776.22,265.58 1778.03,265.8 1779.84,266.03 1781.65,266.25 1783.46,266.48 1785.27,266.7 1787.08,266.93 1788.88,267.16 1790.69,267.39 1792.5,267.62 1794.31,267.85 1796.12,268.08 1797.93,268.31 1799.74,268.55 1801.55,268.78 1803.36,269.01 1805.16,269.25 1806.97,269.49 1808.78,269.72 1810.59,269.96 1812.4,270.2 1812.4,397.6 1813.23,397.6 1812.33,398.95 1811.39,400.3 1810.4,401.65 1809.37,403 1808.31,404.35 1807.22,405.7 1806.1,407.05 1804.96,408.4 1803.8,409.75 1802.61,411.1 1801.4,412.45 1800.18,413.81 1798.96,415.16 1797.73,416.51 1796.51,417.86 1795.28,419.21 1794.07,420.56 1792.86,421.91 1791.66,423.26 1790.47,424.61 1789.28,425.96 1788.1,427.31 1786.93,428.66 1785.75,430.01 1784.57,431.36 1783.4,432.71 1782.21,434.06 1781.02,435.41 1779.82,436.76 1778.62,438.11 1777.4,439.46 1776.17,440.81 1774.92,442.16 1773.66,443.51 1772.38,444.86 1771.08,446.22 1769.75,447.57 1768.41,448.92 1767.02,450.27 1765.52,451.62 1764.01,452.97 1762.47,454.32 1760.9,455.67 1759.32,457.02 1757.72,458.37 1756.1,459.72 1754.47,461.07 1752.82,462.42 1751.16,463.77 1749.48,465.12 1747.8,466.47 1746.1,467.82 1744.41,469.17 1742.72,470.52 1741.02,471.87 1739.31,473.22 1737.6,474.57 1735.9,475.92 1734.28,477.27 1732.67,478.63 1731.06,479.98 1729.45,481.33 1727.86,482.68 1726.26,484.03 1724.68,485.38 1723.11,486.73 1721.54,488.08 1720.02,489.43 1718.51,490.78 1717.01,492.13 1715.53,493.48 1714.06,494.83 1712.62,496.18 1711.19,497.53 1709.79,498.88 1708.4,500.23 1707.04,501.58 1705.7,502.93 1704.38,504.28 1703.07,505.63 1701.79,506.98 1700.52,508.33 1699.28,509.68 1698.05,511.04 1696.85,512.39 1695.68,513.74 1694.52,515.09 1693.39,516.44 1692.28,517.79 1691.27,519.14 1690.29,520.49 1689.34,521.84 1688.41,523.19 1687.5,524.54 1686.62,525.89 1685.76,527.24 1684.93,528.59 1684.12,529.94 1683.29,531.29 1682.49,532.64 1681.71,533.99 1680.96,535.34 1680.23,536.69 1679.52,538.04 1678.85,539.39 1678.19,540.74 1677.57,542.09 1676.97,543.45 1676.4,544.8 1675.69,546.15 1674.98,547.5 1674.3,548.85 1673.65,550.2 1673.02,551.55 1672.43,552.9 1671.85,554.25 1671.31,555.6 1670.8,556.95 1670.32,558.3" stroke="#0068b4" stroke-width="2.1"/>
<polyline points="1094.7,79.1 1097.3,79.32 1099.9,79.56 1102.49,79.81 1105.09,80.09 1107.69,80.37 1110.29,80.68 1112.89,81 1115.49,81.33 1118.08,81.68 1120.68,82.04 1123.28,82.42 1125.88,82.81 1128.48,83.22 1131.07,83.64 1133.67,84.07 1136.27,84.52 1138.87,84.98 1141.47,85.45 1144.07,85.93 1146.66,86.42 1149.26,86.92 1151.86,87.44 1154.46,87.96 1157.06,88.5 1159.65,89.05 1162.25,89.6 1164.85,90.17 1167.45,90.74 1170.05,91.32 1172.65,91.91 1175.24,92.51 1177.84,93.12 1180.44,93.73 1183.04,94.35 1185.64,94.98 1188.23,95.61 1190.83,96.25 1193.43,96.9 1196.03,97.55 1198.63,98.21 1201.23,98.87 1203.82,99.54 1206.42,100.21 1209.02,100.88 1211.62,101.56 1214.22,102.24 1216.81,102.92 1219.41,103.61 1222.01,104.3 1224.61,104.99 1227.21,105.68 1229.81,106.37 1232.4,107.07 1235,107.76 1237.6,108.46 1240.2,109.16 1242.8,109.85 1245.39,110.55 1247.99,111.24 1250.59,111.94 1253.19,112.63 1255.79,113.32 1258.38,114.01 1260.98,114.69 1263.58,115.38 1266.18,116.06 1268.78,116.73 1271.38,117.41 1273.97,118.08 1276.57,118.75 1279.17,119.42 1281.77,120.09 1284.37,120.75 1286.96,121.42 1289.56,122.08 1292.16,122.75 1294.76,123.41 1297.36,124.07 1299.96,124.74 1302.55,125.4 1305.15,126.07 1307.75,126.73 1310.35,127.4 1312.95,128.07 1315.54,128.74 1318.14,129.41 1320.74,130.09 1323.34,130.76 1325.94,131.44 1328.54,132.13 1331.13,132.81 1333.73,133.5 1336.33,134.19 1338.93,134.89 1341.53,135.59 1344.12,136.3 1346.72,137.01 1349.32,137.72 1351.92,138.44 1354.52,139.17 1357.12,139.9 1359.71,140.64 1362.31,141.38 1364.91,142.13 1367.51,142.89 1370.11,143.65 1372.7,144.42 1375.3,145.2 1377.9,145.99 1380.5,146.78 1383.1,147.58 1385.7,148.39 1388.29,149.21 1390.89,150.03 1393.49,150.87 1396.09,151.72 1398.69,152.57 1401.28,153.43 1403.88,154.31 1406.48,155.19 1409.08,156.09 1411.68,156.99 1414.28,157.91 1416.87,158.84 1419.47,159.77 1422.07,160.72 1424.67,161.67 1427.27,162.64 1429.86,163.6 1432.46,164.58 1435.06,165.56 1437.66,166.54 1440.26,167.53 1442.86,168.51 1445.45,169.5 1448.05,170.5 1450.65,171.49 1453.25,172.48 1455.85,173.47 1458.44,174.45 1461.04,175.43 1463.64,176.41 1466.24,177.39 1468.84,178.36 1471.44,179.32 1474.03,180.27 1476.63,181.22 1479.23,182.15 1481.83,183.08 1484.43,184 1487.02,184.9 1489.62,185.8 1492.22,186.68 1494.82,187.54 1497.42,188.39 1500.02,189.23 1502.61,190.06 1505.21,190.87 1507.81,191.68 1510.41,192.47 1513.01,193.26 1515.6,194.04 1518.2,194.82 1520.8,195.6 1523.4,196.37 1526,197.14 1528.59,197.92 1531.19,198.69 1533.79,199.47 1536.39,200.26 1538.99,201.05 1541.59,201.85 1544.18,202.65 1546.78,203.47 1549.38,204.3 1551.98,205.14 1554.58,205.99 1557.17,206.86 1559.77,207.75 1562.37,208.65 1564.97,209.57 1567.57,210.52 1570.17,211.48 1572.76,212.47 1575.36,213.48 1577.96,214.51 1580.56,215.56 1583.16,216.63 1585.75,217.71 1588.35,218.8 1590.95,219.91 1593.55,221.03 1596.15,222.16 1598.75,223.3 1601.34,224.44 1603.94,225.59 1606.54,226.74 1609.14,227.9 1611.74,229.05 1614.33,230.21 1616.93,231.36 1619.53,232.51 1622.13,233.66 1624.73,234.79 1627.33,235.92 1629.92,237.04 1632.52,238.15 1635.12,239.25 1637.72,240.33 1640.32,241.39 1642.91,242.43 1645.51,243.44 1648.11,244.42 1650.71,245.37 1653.31,246.27 1655.91,247.13 1658.5,247.94 1661.1,248.7 1663.7,249.41 1665.58,249.94 1667.46,250.46 1669.35,250.96 1671.23,251.45 1673.11,251.93 1674.99,252.4 1676.88,252.84 1678.76,253.27 1680.64,253.68 1682.52,254.07 1684.41,254.44 1686.29,254.78 1688.17,255.11 1690.05,255.4 1691.93,255.68 1693.82,255.93 1695.7,256.16 1697.58,256.38 1699.46,256.59 1701.35,256.79 1703.23,256.97 1705.11,257.16 1706.99,257.34 1708.87,257.52 1710.76,257.7 1712.64,257.89 1714.52,258.09 1716.4,258.3 1718.29,258.52 1720.17,258.74 1722.05,258.97 1723.93,259.2 1725.82,259.44 1727.7,259.68 1729.58,259.92 1731.46,260.16 1733.34,260.41 1735.23,260.65 1737.11,260.89 1738.99,261.13 1740.87,261.36 1742.76,261.59 1744.64,261.82 1746.52,262.05 1748.4,262.28 1750.28,262.5 1752.17,262.73 1754.05,262.95 1755.93,263.17 1757.81,263.39 1759.7,263.61 1761.58,263.83 1763.46,264.06 1765.34,264.28 1767.23,264.5 1769.11,264.72 1770.99,264.95 1772.87,265.17 1774.75,265.4 1776.64,265.63 1778.52,265.86 1780.4,266.1 1782.28,266.33 1784.17,266.57 1786.05,266.8 1787.93,267.04 1789.81,267.28 1791.69,267.52 1793.58,267.76 1795.46,268 1797.34,268.24 1799.22,268.48 1801.11,268.72 1802.99,268.97 1804.87,269.21 1806.75,269.46 1808.64,269.7 1810.52,269.95 1812.4,270.2 1812.4,397.6 1812.93,397.6 1812,398.95 1811.02,400.3 1810,401.65 1808.94,403 1807.85,404.35 1806.73,405.7 1805.58,407.05 1804.4,408.4 1803.2,409.75 1801.97,411.1 1800.73,412.45 1799.47,413.81 1798.21,415.16 1796.94,416.51 1795.67,417.86 1794.41,419.21 1793.15,420.56 1791.9,421.91 1790.66,423.26 1789.43,424.61 1788.21,425.96 1786.99,427.31 1785.77,428.66 1784.55,430.01 1783.33,431.36 1782.11,432.71 1780.89,434.06 1779.66,435.41 1778.42,436.76 1777.17,438.11 1775.91,439.46 1774.64,440.81 1773.36,442.16 1772.05,443.51 1770.73,444.86 1769.39,446.22 1768.03,447.57 1766.64,448.92 1765.23,450.27 1763.79,451.62 1762.32,452.97 1760.83,454.32 1759.32,455.67 1757.79,457.02 1756.25,458.37 1754.68,459.72 1753.1,461.07 1751.5,462.42 1749.89,463.77 1748.27,465.12 1746.64,466.47 1745,467.82 1743.37,469.17 1741.74,470.52 1740.11,471.87 1738.47,473.22 1736.83,474.57 1735.19,475.92 1733.53,477.27 1731.86,478.63 1730.19,479.98 1728.53,481.33 1726.88,482.68 1725.23,484.03 1723.59,485.38 1721.96,486.73 1720.34,488.08 1718.73,489.43 1717.14,490.78 1715.56,492.13 1714,493.48 1712.46,494.83 1710.94,496.18 1709.43,497.53 1707.95,498.88 1706.48,500.23 1705.04,501.58 1703.62,502.93 1702.22,504.28 1700.83,505.63 1699.46,506.98 1698.11,508.33 1696.79,509.68 1695.48,511.04 1694.2,512.39 1692.94,513.74 1691.7,515.09 1690.49,516.44 1689.29,517.79 1688.11,519.14 1686.96,520.49 1685.83,521.84 1684.72,523.19 1683.63,524.54 1682.57,525.89 1681.53,527.24 1680.52,528.59 1679.53,529.94 1678.62,531.29 1677.73,532.64 1676.87,533.99 1676.04,535.34 1675.23,536.69 1674.44,538.04 1673.68,539.39 1672.95,540.74 1672.24,542.09 1671.56,543.45 1670.91,544.8 1670.23,546.15 1669.58,547.5 1668.95,548.85 1668.35,550.2 1667.78,551.55 1667.23,552.9 1666.71,554.25 1666.22,555.6 1665.76,556.95 1665.32,558.3" stroke="#b73218" stroke-width="2.1"/>
<polyline points="1094.7,84.7 1097.3,84.96 1099.9,85.24 1102.5,85.53 1105.1,85.83 1107.7,86.14 1110.31,86.47 1112.91,86.81 1115.51,87.16 1118.11,87.53 1120.71,87.91 1123.31,88.3 1125.91,88.7 1128.51,89.11 1131.11,89.53 1133.71,89.97 1136.31,90.41 1138.92,90.86 1141.52,91.33 1144.12,91.8 1146.72,92.29 1149.32,92.78 1151.92,93.28 1154.52,93.8 1157.12,94.32 1159.72,94.85 1162.32,95.38 1164.92,95.93 1167.53,96.48 1170.13,97.05 1172.73,97.61 1175.33,98.19 1177.93,98.77 1180.53,99.36 1183.13,99.96 1185.73,100.56 1188.33,101.17 1190.93,101.79 1193.53,102.41 1196.14,103.03 1198.74,103.66 1201.34,104.3 1203.94,104.94 1206.54,105.59 1209.14,106.23 1211.74,106.89 1214.34,107.55 1216.94,108.21 1219.54,108.87 1222.14,109.54 1224.75,110.21 1227.35,110.88 1229.95,111.56 1232.55,112.24 1235.15,112.92 1237.75,113.6 1240.35,114.28 1242.95,114.96 1245.55,115.65 1248.15,116.34 1250.75,117.02 1253.36,117.71 1255.96,118.4 1258.56,119.09 1261.16,119.78 1263.76,120.46 1266.36,121.15 1268.96,121.84 1271.56,122.52 1274.16,123.21 1276.76,123.89 1279.36,124.58 1281.97,125.27 1284.57,125.96 1287.17,126.65 1289.77,127.34 1292.37,128.03 1294.97,128.72 1297.57,129.42 1300.17,130.12 1302.77,130.82 1305.37,131.52 1307.97,132.23 1310.58,132.94 1313.18,133.65 1315.78,134.36 1318.38,135.08 1320.98,135.8 1323.58,136.53 1326.18,137.26 1328.78,138 1331.38,138.74 1333.98,139.48 1336.58,140.23 1339.19,140.99 1341.79,141.75 1344.39,142.51 1346.99,143.28 1349.59,144.06 1352.19,144.85 1354.79,145.64 1357.39,146.43 1359.99,147.24 1362.59,148.04 1365.19,148.86 1367.8,149.68 1370.4,150.5 1373,151.33 1375.6,152.16 1378.2,153 1380.8,153.85 1383.4,154.7 1386,155.55 1388.6,156.41 1391.2,157.27 1393.81,158.14 1396.41,159.01 1399.01,159.89 1401.61,160.76 1404.21,161.65 1406.81,162.53 1409.41,163.42 1412.01,164.32 1414.61,165.21 1417.21,166.11 1419.81,167.02 1422.42,167.92 1425.02,168.83 1427.62,169.74 1430.22,170.66 1432.82,171.57 1435.42,172.49 1438.02,173.41 1440.62,174.33 1443.22,175.26 1445.82,176.19 1448.42,177.11 1451.03,178.04 1453.63,178.98 1456.23,179.91 1458.83,180.84 1461.43,181.78 1464.03,182.72 1466.63,183.65 1469.23,184.59 1471.83,185.53 1474.43,186.47 1477.03,187.41 1479.64,188.35 1482.24,189.29 1484.84,190.23 1487.44,191.17 1490.04,192.11 1492.64,193.05 1495.24,193.99 1497.84,194.93 1500.44,195.87 1503.04,196.8 1505.64,197.74 1508.25,198.68 1510.85,199.61 1513.45,200.54 1516.05,201.48 1518.65,202.41 1521.25,203.33 1523.85,204.26 1526.45,205.19 1529.05,206.11 1531.65,207.03 1534.25,207.95 1536.86,208.87 1539.46,209.78 1542.06,210.69 1544.66,211.6 1547.26,212.51 1549.86,213.41 1552.46,214.31 1555.06,215.21 1557.66,216.1 1560.26,216.99 1562.86,217.88 1565.47,218.76 1568.07,219.64 1570.67,220.51 1573.27,221.39 1575.87,222.26 1578.47,223.13 1581.07,224.02 1583.67,224.91 1586.27,225.81 1588.87,226.73 1591.47,227.67 1594.08,228.63 1596.68,229.62 1599.28,230.62 1601.88,231.64 1604.48,232.68 1607.08,233.71 1609.68,234.75 1612.28,235.79 1614.88,236.83 1617.48,237.85 1620.08,238.86 1622.69,239.85 1625.29,240.82 1627.89,241.77 1630.49,242.69 1633.09,243.58 1635.69,244.43 1638.29,245.24 1640.89,246.01 1643.49,246.75 1646.09,247.44 1648.69,248.09 1651.3,248.69 1653.9,249.25 1656.5,249.76 1659.1,250.22 1661.7,250.64 1664.3,251 1666.17,251.37 1668.05,251.74 1669.92,252.1 1671.8,252.45 1673.67,252.8 1675.55,253.13 1677.42,253.46 1679.3,253.78 1681.17,254.09 1683.05,254.39 1684.92,254.68 1686.8,254.96 1688.67,255.22 1690.55,255.48 1692.42,255.72 1694.29,255.95 1696.17,256.17 1698.04,256.38 1699.92,256.58 1701.79,256.78 1703.67,256.97 1705.54,257.16 1707.42,257.35 1709.29,257.54 1711.17,257.73 1713.04,257.93 1714.92,258.13 1716.79,258.34 1718.67,258.56 1720.54,258.79 1722.42,259.02 1724.29,259.25 1726.16,259.49 1728.04,259.72 1729.91,259.96 1731.79,260.21 1733.66,260.45 1735.54,260.69 1737.41,260.93 1739.29,261.16 1741.16,261.4 1743.04,261.63 1744.91,261.86 1746.79,262.08 1748.66,262.31 1750.54,262.53 1752.41,262.75 1754.28,262.98 1756.16,263.2 1758.03,263.42 1759.91,263.64 1761.78,263.86 1763.66,264.08 1765.53,264.3 1767.41,264.52 1769.28,264.74 1771.16,264.97 1773.03,265.19 1774.91,265.42 1776.78,265.65 1778.66,265.88 1780.53,266.11 1782.41,266.35 1784.28,266.58 1786.15,266.82 1788.03,267.05 1789.9,267.29 1791.78,267.53 1793.65,267.77 1795.53,268 1797.4,268.25 1799.28,268.49 1801.15,268.73 1803.03,268.97 1804.9,269.22 1806.78,269.46 1808.65,269.71 1810.53,269.95 1812.4,270.2 1812.4,397.6 1812.93,397.6 1811.95,398.95 1810.93,400.3 1809.87,401.65 1808.77,403 1807.63,404.35 1806.47,405.7 1805.27,407.05 1804.05,408.4 1802.81,409.75 1801.55,411.1 1800.28,412.45 1798.99,413.81 1797.7,415.16 1796.41,416.51 1795.11,417.86 1793.82,419.21 1792.54,420.56 1791.26,421.91 1790,423.26 1788.74,424.61 1787.49,425.96 1786.24,427.31 1784.99,428.66 1783.75,430.01 1782.51,431.36 1781.26,432.71 1780.01,434.06 1778.75,435.41 1777.49,436.76 1776.21,438.11 1774.93,439.46 1773.63,440.81 1772.31,442.16 1770.98,443.51 1769.63,444.86 1768.27,446.22 1766.88,447.57 1765.46,448.92 1764.02,450.27 1762.56,451.62 1761.07,452.97 1759.56,454.32 1758.03,455.67 1756.48,457.02 1754.91,458.37 1753.32,459.72 1751.71,461.07 1750.09,462.42 1748.46,463.77 1746.82,465.12 1745.16,466.47 1743.5,467.82 1741.83,469.17 1740.15,470.52 1738.47,471.87 1736.78,473.22 1735.09,474.57 1733.4,475.92 1731.7,477.27 1730.01,478.63 1728.33,479.98 1726.64,481.33 1724.97,482.68 1723.3,484.03 1721.63,485.38 1719.98,486.73 1718.34,488.08 1716.71,489.43 1715.09,490.78 1713.49,492.13 1711.91,493.48 1710.34,494.83 1708.79,496.18 1707.26,497.53 1705.76,498.88 1704.27,500.23 1702.8,501.58 1701.36,502.93 1699.93,504.28 1698.53,505.63 1697.15,506.98 1695.79,508.33 1694.45,509.68 1693.14,511.04 1691.84,512.39 1690.57,513.74 1689.32,515.09 1688.1,516.44 1686.89,517.79 1685.71,519.14 1684.56,520.49 1683.43,521.84 1682.32,523.19 1681.23,524.54 1680.17,525.89 1679.13,527.24 1678.12,528.59 1677.13,529.94 1676.16,531.29 1675.23,532.64 1674.31,533.99 1673.42,535.34 1672.56,536.69 1671.72,538.04 1670.91,539.39 1670.12,540.74 1669.36,542.09 1668.62,543.45 1667.92,544.8 1667.23,546.15 1666.58,547.5 1665.95,548.85 1665.35,550.2 1664.78,551.55 1664.23,552.9 1663.71,554.25 1663.22,555.6 1662.76,556.95 1662.32,558.3" stroke="#70ba40" stroke-width="2.1"/>
</g>
<g stroke="#808080" stroke-width="1.3" fill="none">
<path d="M1094.55 12V624.7H1872.11"/>
<path d="M1094.55 624.7V616.7"/>
<path d="M1214.17 624.7V616.7"/>
<path d="M1333.8 624.7V616.7"/>
<path d="M1453.42 624.7V616.7"/>
<path d="M1573.05 624.7V616.7"/>
<path d="M1692.67 624.7V616.7"/>
<path d="M1812.3 624.7V616.7"/>
<path d="M1094.55 36.9H1102.55"/>
<path d="M1094.55 160.4H1102.55"/>
<path d="M1094.55 283.9H1102.55"/>
<path d="M1094.55 407.4H1102.55"/>
<path d="M1094.55 530.9H1102.55"/>
</g>
<g fill="#404040" font-family="Liberation Sans, Arial, Helvetica, sans-serif" font-size="33">
<text x="1094.55" y="668.2" text-anchor="middle">0</text>
<text x="1214.17" y="668.2" text-anchor="middle">100</text>
<text x="1333.8" y="668.2" text-anchor="middle">200</text>
<text x="1453.42" y="668.2" text-anchor="middle">300</text>
<text x="1573.05" y="668.2" text-anchor="middle">400</text>
<text x="1692.67" y="668.2" text-anchor="middle">500</text>
<text x="1812.3" y="668.2" text-anchor="middle">600</text>
<text x="1083.05" y="49.7" text-anchor="end">1000</text>
<text x="1083.05" y="173.2" text-anchor="end">500</text>
<text x="1083.05" y="296.7" text-anchor="end">0</text>
<text x="1083.05" y="420.2" text-anchor="end">-500</text>
<text x="1083.05" y="543.7" text-anchor="end">-1000</text>
</g>
<path d="M1681.05 49.2H1746.65" stroke="#0068b4" stroke-width="3.7" fill="none"/>
<text x="1755.55" y="61.5" font-family="Liberation Sans, Arial, Helvetica, sans-serif" font-size="33.5" fill="#1a1a1a">0 km</text>
<path d="M1681.05 98.6H1746.65" stroke="#b73218" stroke-width="3.7" fill="none"/>
<text x="1755.55" y="110.9" font-family="Liberation Sans, Arial, Helvetica, sans-serif" font-size="33.5" fill="#1a1a1a">10 km</text>
<path d="M1681.05 148H1746.65" stroke="#70ba40" stroke-width="3.7" fill="none"/>
<text x="1755.55" y="160.3" font-family="Liberation Sans, Arial, Helvetica, sans-serif" font-size="33.5" fill="#1a1a1a">50 km</text>
<text x="1145" y="32.3" font-family="Liberation Sans, Arial, Helvetica, sans-serif" font-size="38" font-weight="bold" fill="#000">b</text>
<text x="1429.6" y="706.7" font-family="Liberation Serif, Times New Roman, serif" font-size="38" font-style="italic" fill="#404040" textLength="18.2" lengthAdjust="spacingAndGlyphs">x</text>
<text x="1463.2" y="706.7" font-family="Liberation Serif, Times New Roman, serif" font-size="38" fill="#404040" textLength="73" lengthAdjust="spacingAndGlyphs">(km)</text>
<text transform="translate(979.6,0) rotate(-90)" x="-389.3" y="0" font-family="Liberation Serif, Times New Roman, serif" font-size="38" fill="#404040" font-style="italic" textLength="22.5" lengthAdjust="spacingAndGlyphs">S</text>
<text transform="translate(979.6,0) rotate(-90)" x="-362.6" y="0" font-family="Liberation Serif, Times New Roman, serif" font-size="38" fill="#404040" textLength="3.6" lengthAdjust="spacingAndGlyphs">,</text>
<text transform="translate(979.6,0) rotate(-90)" x="-343.4" y="0" font-family="Liberation Serif, Times New Roman, serif" font-size="38" fill="#404040" font-style="italic" textLength="26.2" lengthAdjust="spacingAndGlyphs">B</text>
<text transform="translate(979.6,0) rotate(-90)" x="-301.6" y="0" font-family="Liberation Serif, Times New Roman, serif" font-size="38" fill="#404040" textLength="54.2" lengthAdjust="spacingAndGlyphs">(m)</text>
<defs><clipPath id="cc"><rect x="130.7" y="757.5" width="789.7" height="614.5"/></clipPath></defs>
<g clip-path="url(#cc)" fill="none" stroke-width="2" stroke-linejoin="round">
<polyline points="824.9,1135.2 821.51,1136 818.13,1136.8 814.74,1137.6 811.36,1138.4 807.97,1139.19 804.59,1139.99 801.21,1140.78 797.82,1141.57 794.44,1142.35 791.05,1143.14 787.67,1143.92 784.29,1144.7 780.9,1145.48 777.52,1146.26 774.14,1147.04 770.76,1147.81 767.37,1148.58 763.99,1149.35 760.61,1150.12 757.23,1150.89 753.84,1151.65 750.46,1152.42 747.08,1153.18 743.7,1153.94 740.32,1154.69 736.94,1155.45 733.55,1156.21 730.17,1156.96 726.79,1157.71 723.41,1158.46 720.03,1159.21 716.64,1159.96 713.26,1160.7 709.88,1161.45 706.5,1162.19 703.12,1162.93 699.73,1163.67 696.35,1164.41 692.97,1165.15 689.59,1165.88 686.2,1166.62 682.82,1167.35 679.44,1168.08 676.06,1168.81 672.67,1169.54 669.29,1170.27 665.91,1170.99 662.52,1171.72 659.14,1172.44 655.75,1173.16 652.37,1173.89 648.98,1174.61 645.6,1175.32 642.21,1176.04 638.83,1176.76 635.44,1177.47 632.06,1178.19 628.67,1178.9 625.28,1179.62 621.9,1180.33 618.51,1181.04 615.12,1181.75 611.73,1182.45 608.35,1183.16 604.96,1183.87 601.57,1184.57 598.18,1185.28 594.79,1185.98 591.4,1186.68 588.01,1187.39 584.62,1188.09 581.22,1188.79 577.83,1189.49 574.44,1190.19 571.05,1190.88 567.65,1191.58 564.26,1192.28 560.86,1192.97 557.47,1193.67 554.07,1194.36 550.68,1195.06 547.28,1195.75 543.88,1196.44 540.49,1197.13 537.09,1197.82 533.69,1198.51 530.29,1199.2 526.89,1199.89 523.49,1200.58 520.09,1201.27 516.68,1201.96 513.28,1202.64 509.88,1203.33 506.47,1204.02 503.07,1204.7 499.66,1205.39 496.26,1206.07 492.85,1206.76 489.44,1207.44 486.04,1208.13 482.63,1208.81 479.22,1209.5 475.81,1210.18 472.4,1210.87 469,1211.55 465.59,1212.23 462.18,1212.92 458.77,1213.6 455.36,1214.29 451.95,1214.97 448.54,1215.66 445.13,1216.34 441.72,1217.02 438.31,1217.71 434.9,1218.4 431.5,1219.08 428.09,1219.77 424.68,1220.45 421.27,1221.14 417.86,1221.83 414.46,1222.52 411.05,1223.21 407.65,1223.9 404.24,1224.59 400.84,1225.28 397.43,1225.97 394.03,1226.66 390.63,1227.35 387.22,1228.05 383.82,1228.74 380.42,1229.44 377.02,1230.14 373.62,1230.83 370.23,1231.53 366.83,1232.23 363.43,1232.93 360.04,1233.63 356.65,1234.34 353.26,1235.04 349.86,1235.75 346.47,1236.45 343.09,1237.16 339.7,1237.87 336.31,1238.58 332.93,1239.29 329.55,1240.01 326.17,1240.72 322.79,1241.44 319.41,1242.16 316.03,1242.88 312.66,1243.6 309.28,1244.32 305.91,1245.05 302.54,1245.77 299.17,1246.5 295.81,1247.23 292.44,1247.96 289.08,1248.7 285.72,1249.43 282.36,1250.17 279.01,1250.91 275.65,1251.65 272.3,1252.4 268.95,1253.14 265.6,1253.89 262.26,1254.65 258.91,1255.41 255.57,1256.18 252.22,1256.96 248.87,1257.75 245.52,1258.55 242.17,1259.38 238.82,1260.22 235.46,1261.08 232.09,1261.96 228.72,1262.87 225.35,1263.8 221.97,1264.76 218.58,1265.75 215.18,1266.78 211.78,1267.83 208.36,1268.92 204.94,1270.05 201.51,1271.22 198.06,1272.43 194.61,1273.68 191.19,1275 187.88,1276.43 184.75,1277.99 181.89,1279.72 179.35,1281.66 177.37,1283.8 176.44,1286.03 177,1288.24 178.82,1290.29 181.41,1292.07 184.36,1293.52 187.57,1294.68 190.96,1295.61 194.47,1296.4 198.02,1297.11 201.56,1297.78 205.09,1298.41 208.62,1299.02 212.14,1299.59 215.65,1300.14 219.16,1300.65 222.66,1301.14 226.16,1301.6 229.65,1302.04 233.13,1302.45 236.61,1302.85 240.09,1303.22 243.56,1303.57 247.03,1303.9 250.49,1304.22 253.95,1304.52 257.41,1304.8 260.86,1305.07 264.32,1305.33 267.77,1305.58 271.22,1305.82 274.66,1306.05 278.11,1306.27 281.56,1306.48 285,1306.7 288.45,1306.9 291.9,1307.11 295.34,1307.31 298.79,1307.51 302.24,1307.71 305.69,1307.91 309.13,1308.11 312.58,1308.3 316.03,1308.49 319.48,1308.68 322.93,1308.87 326.38,1309.06 329.83,1309.25 333.29,1309.43 336.74,1309.61 340.19,1309.79 343.64,1309.97 347.1,1310.15 350.55,1310.33 354,1310.5 357.46,1310.68 360.91,1310.85 364.37,1311.02 367.82,1311.18 371.28,1311.35 374.74,1311.52 378.19,1311.68 381.65,1311.84 385.11,1312 388.56,1312.16 392.02,1312.32 395.48,1312.48 398.94,1312.63 402.4,1312.79 405.86,1312.94 409.32,1313.09 412.77,1313.24 416.23,1313.39 419.7,1313.53 423.16,1313.68 426.62,1313.82 430.08,1313.96 433.54,1314.1 437,1314.24 440.46,1314.38 443.93,1314.52 447.39,1314.66 450.85,1314.79 454.31,1314.92 457.78,1315.06 461.24,1315.19 464.7,1315.32 468.17,1315.45 471.63,1315.57 475.1,1315.7 478.56,1315.82 482.03,1315.95 485.49,1316.07 488.96,1316.19 492.42,1316.31 495.89,1316.43 499.35,1316.55 502.82,1316.66 506.29,1316.78 509.75,1316.9 513.22,1317.01 516.69,1317.12 520.15,1317.23 523.62,1317.34 527.09,1317.45 530.56,1317.56 534.02,1317.67 537.49,1317.77 540.96,1317.88 544.43,1317.98 547.9,1318.09 551.36,1318.19 554.83,1318.29 558.3,1318.39 561.77,1318.49 565.24,1318.59 568.71,1318.69 572.18,1318.79 575.64,1318.88 579.11,1318.98 582.58,1319.07 586.05,1319.17 589.52,1319.26 592.99,1319.35 596.46,1319.44 599.93,1319.53 603.4,1319.62 606.87,1319.71 610.34,1319.8 613.81,1319.89 617.28,1319.97 620.75,1320.06 624.22,1320.14 627.69,1320.23 631.16,1320.31 634.63,1320.39 638.1,1320.48 641.57,1320.56 645.04,1320.64 648.51,1320.72 651.98,1320.8 655.45,1320.88 658.92,1320.96 662.39,1321.03 665.86,1321.11 669.33,1321.19 672.79,1321.27 676.26,1321.34 679.73,1321.42 683.2,1321.49 686.67,1321.56 690.14,1321.64 693.61,1321.71 697.08,1321.78 700.55,1321.86 704.02,1321.93 707.49,1322 710.96,1322.07 714.43,1322.14 717.9,1322.21 721.36,1322.28 724.83,1322.35 728.3,1322.42 731.77,1322.49 735.24,1322.55 738.71,1322.62 742.17,1322.69 745.64,1322.76 749.11,1322.82 752.58,1322.89 756.05,1322.96 759.51,1323.02 762.98,1323.09 766.45,1323.15 769.91,1323.22 773.38,1323.28 776.85,1323.35 780.31,1323.41 783.78,1323.48 787.25,1323.54 790.71,1323.6 794.18,1323.67 797.64,1323.73 801.11,1323.79 804.57,1323.86 808.04,1323.92 811.5,1323.98 814.97,1324.05 818.43,1324.11 821.89,1324.17 825.36,1324.23 828.82,1324.3 832.28,1324.36 835.75,1324.42 839.21,1324.48 842.67,1324.55 846.13,1324.61 849.6,1324.67 853.06,1324.73 856.52,1324.8 859.98,1324.86 863.44,1324.92 866.9,1324.99 870.36,1325.05 873.82,1325.11 877.28,1325.17 880.74,1325.24 884.2,1325.3 772.4,1325.3" stroke="#7a7a26"/>
<polyline points="825,1250.7 821.58,1250.92 818.17,1251.14 814.75,1251.36 811.34,1251.57 807.92,1251.78 804.51,1252 801.09,1252.21 797.68,1252.42 794.27,1252.62 790.85,1252.83 787.44,1253.03 784.03,1253.23 780.61,1253.44 777.2,1253.63 773.79,1253.83 770.37,1254.03 766.96,1254.23 763.55,1254.42 760.14,1254.61 756.73,1254.81 753.31,1255 749.9,1255.19 746.49,1255.38 743.08,1255.56 739.67,1255.75 736.26,1255.94 732.85,1256.12 729.44,1256.31 726.03,1256.49 722.61,1256.67 719.2,1256.85 715.79,1257.04 712.38,1257.22 708.97,1257.4 705.56,1257.58 702.15,1257.76 698.74,1257.93 695.33,1258.11 691.92,1258.29 688.51,1258.47 685.1,1258.64 681.69,1258.82 678.28,1259 674.87,1259.17 671.46,1259.35 668.05,1259.52 664.64,1259.7 661.24,1259.87 657.83,1260.05 654.42,1260.23 651.01,1260.4 647.6,1260.58 644.19,1260.75 640.78,1260.93 637.37,1261.1 633.96,1261.28 630.55,1261.46 627.14,1261.63 623.73,1261.81 620.32,1261.99 616.91,1262.17 613.5,1262.34 610.08,1262.52 606.67,1262.7 603.26,1262.88 599.85,1263.06 596.44,1263.25 593.03,1263.43 589.62,1263.61 586.21,1263.79 582.8,1263.98 579.39,1264.16 575.97,1264.35 572.56,1264.54 569.15,1264.72 565.74,1264.91 562.33,1265.1 558.91,1265.29 555.5,1265.48 552.09,1265.68 548.67,1265.87 545.26,1266.07 541.85,1266.26 538.43,1266.46 535.02,1266.66 531.61,1266.86 528.19,1267.06 524.78,1267.27 521.36,1267.47 517.95,1267.67 514.54,1267.88 511.12,1268.08 507.71,1268.29 504.29,1268.5 500.88,1268.71 497.46,1268.92 494.05,1269.13 490.63,1269.34 487.22,1269.55 483.8,1269.77 480.39,1269.98 476.97,1270.2 473.56,1270.41 470.14,1270.63 466.73,1270.85 463.31,1271.06 459.9,1271.28 456.48,1271.5 453.07,1271.72 449.65,1271.94 446.24,1272.16 442.82,1272.39 439.41,1272.61 435.99,1272.83 432.58,1273.05 429.17,1273.28 425.75,1273.5 422.34,1273.72 418.92,1273.95 415.51,1274.17 412.1,1274.4 408.68,1274.63 405.27,1274.85 401.86,1275.08 398.45,1275.31 395.03,1275.53 391.62,1275.76 388.21,1275.99 384.8,1276.22 381.39,1276.44 377.98,1276.67 374.57,1276.9 371.16,1277.13 367.75,1277.36 364.34,1277.58 360.93,1277.81 357.52,1278.04 354.11,1278.27 350.7,1278.5 347.29,1278.73 343.89,1278.95 340.48,1279.18 337.07,1279.41 333.67,1279.64 330.26,1279.87 326.85,1280.09 323.45,1280.32 320.04,1280.55 316.64,1280.77 313.24,1281 309.83,1281.23 306.43,1281.45 303.03,1281.68 299.63,1281.9 296.23,1282.13 292.82,1282.35 289.42,1282.58 286.02,1282.8 282.63,1283.03 279.23,1283.25 275.83,1283.47 272.43,1283.69 269.04,1283.91 265.64,1284.13 262.24,1284.35 258.85,1284.57 255.45,1284.79 252.06,1285.01 248.67,1285.23 245.27,1285.45 241.88,1285.67 238.49,1285.9 235.09,1286.15 231.69,1286.41 228.28,1286.69 224.87,1286.99 221.45,1287.32 218.02,1287.69 214.59,1288.08 211.15,1288.52 207.69,1289 204.23,1289.53 200.75,1290.1 197.26,1290.73 193.76,1291.42 190.24,1292.17 186.7,1292.98 183.15,1293.87 179.78,1294.82 177.29,1295.83 176.44,1296.89 177.56,1297.94 179.65,1298.81 182.41,1299.53 185.68,1300.11 189.31,1300.58 193.15,1300.97 197.03,1301.31 200.83,1301.63 204.53,1301.93 208.16,1302.21 211.71,1302.47 215.2,1302.71 218.64,1302.95 222.04,1303.17 225.42,1303.38 228.77,1303.58 232.12,1303.78 235.47,1303.97 238.83,1304.16 242.18,1304.34 245.54,1304.52 248.91,1304.69 252.27,1304.86 255.64,1305.03 259.02,1305.19 262.39,1305.35 265.77,1305.5 269.16,1305.65 272.54,1305.79 275.93,1305.93 279.32,1306.07 282.71,1306.2 286.11,1306.33 289.5,1306.46 292.9,1306.59 296.3,1306.71 299.71,1306.82 303.11,1306.94 306.52,1307.05 309.93,1307.16 313.34,1307.26 316.75,1307.37 320.17,1307.47 323.59,1307.57 327,1307.66 330.42,1307.75 333.84,1307.85 337.26,1307.94 340.68,1308.02 344.11,1308.11 347.53,1308.19 350.96,1308.27 354.38,1308.35 357.81,1308.43 361.24,1308.51 364.66,1308.58 368.09,1308.66 371.52,1308.73 374.95,1308.8 378.38,1308.87 381.81,1308.94 385.24,1309.01 388.67,1309.07 392.09,1309.14 395.52,1309.21 398.95,1309.27 402.38,1309.34 405.81,1309.4 409.23,1309.47 412.66,1309.53 416.09,1309.6 419.51,1309.66 422.94,1309.72 426.36,1309.79 429.79,1309.85 433.21,1309.91 436.64,1309.97 440.06,1310.03 443.49,1310.09 446.91,1310.15 450.33,1310.21 453.76,1310.27 457.18,1310.33 460.6,1310.39 464.02,1310.45 467.44,1310.51 470.86,1310.57 474.28,1310.63 477.71,1310.69 481.13,1310.74 484.55,1310.8 487.97,1310.86 491.38,1310.92 494.8,1310.97 498.22,1311.03 501.64,1311.09 505.06,1311.14 508.48,1311.2 511.9,1311.26 515.31,1311.31 518.73,1311.37 522.15,1311.42 525.57,1311.48 528.98,1311.54 532.4,1311.59 535.82,1311.65 539.23,1311.7 542.65,1311.76 546.06,1311.81 549.48,1311.87 552.9,1311.93 556.31,1311.98 559.73,1312.04 563.14,1312.09 566.56,1312.15 569.97,1312.2 573.39,1312.26 576.8,1312.31 580.21,1312.37 583.63,1312.42 587.04,1312.48 590.46,1312.54 593.87,1312.59 597.28,1312.65 600.7,1312.7 604.11,1312.76 607.52,1312.82 610.94,1312.87 614.35,1312.93 617.76,1312.99 621.18,1313.04 624.59,1313.1 628,1313.16 631.42,1313.21 634.83,1313.27 638.24,1313.33 641.66,1313.39 645.07,1313.44 648.48,1313.5 651.89,1313.56 655.31,1313.62 658.72,1313.68 662.13,1313.74 665.55,1313.8 668.96,1313.86 672.37,1313.92 675.78,1313.98 679.2,1314.04 682.61,1314.1 686.02,1314.16 689.44,1314.22 692.85,1314.29 696.26,1314.35 699.67,1314.41 703.09,1314.48 706.5,1314.54 709.91,1314.6 713.33,1314.67 716.74,1314.73 720.15,1314.8 723.57,1314.86 726.98,1314.93 730.4,1315 733.81,1315.06 737.22,1315.13 740.64,1315.2 744.05,1315.27 747.47,1315.34 750.88,1315.4 754.3,1315.47 757.71,1315.55 761.12,1315.62 764.54,1315.69 767.96,1315.76 771.37,1315.83 774.79,1315.91 778.2,1315.98 781.62,1316.05 785.03,1316.13 788.45,1316.2 791.87,1316.28 795.28,1316.36 798.7,1316.43 802.12,1316.51 805.53,1316.59 808.95,1316.67 812.37,1316.75 815.79,1316.83 819.2,1316.91 822.62,1316.99 826.04,1317.08 829.46,1317.16 832.88,1317.24 836.3,1317.33 839.72,1317.42 843.14,1317.5 846.56,1317.59 849.98,1317.68 853.4,1317.77 856.82,1317.85 860.24,1317.95 863.66,1318.04 867.09,1318.13 870.51,1318.22 873.93,1318.31 877.35,1318.41 880.78,1318.5 884.2,1318.6 850,1319.3 802,1319.8" stroke="#481818"/>
<polyline points="825.2,801.3 793.3,838.2 761.3,879.7 731,1023.3 701.6,1062.8 673.2,1084.3 645,1100.2 642.31,1101.67 639.62,1103.13 636.91,1104.58 634.21,1106.02 631.5,1107.44 628.78,1108.86 626.06,1110.26 623.34,1111.65 620.6,1113.04 617.87,1114.41 615.13,1115.77 612.38,1117.12 609.63,1118.46 606.88,1119.79 604.12,1121.11 601.36,1122.41 598.59,1123.71 595.82,1125 593.04,1126.28 590.26,1127.55 587.47,1128.82 584.68,1130.07 581.89,1131.31 579.09,1132.54 576.29,1133.77 573.48,1134.98 570.68,1136.19 567.86,1137.39 565.05,1138.58 562.23,1139.76 559.4,1140.94 556.57,1142.1 553.74,1143.26 550.91,1144.41 548.07,1145.55 545.23,1146.69 542.38,1147.81 539.54,1148.93 536.68,1150.04 533.83,1151.15 530.97,1152.25 528.11,1153.34 525.25,1154.42 522.38,1155.5 519.51,1156.57 516.64,1157.64 513.77,1158.7 510.89,1159.75 508.01,1160.79 505.13,1161.83 502.25,1162.87 499.36,1163.9 496.47,1164.92 493.58,1165.94 490.68,1166.95 487.79,1167.96 484.89,1168.96 481.99,1169.96 479.09,1170.95 476.18,1171.94 473.28,1172.92 470.37,1173.9 467.46,1174.87 464.55,1175.84 461.64,1176.8 458.72,1177.77 455.81,1178.72 452.89,1179.68 449.97,1180.63 447.05,1181.57 444.13,1182.51 441.2,1183.45 438.28,1184.39 435.35,1185.32 432.43,1186.25 429.5,1187.18 426.57,1188.1 423.64,1189.03 420.71,1189.95 417.78,1190.86 414.85,1191.78 411.92,1192.69 408.99,1193.6 406.05,1194.51 403.12,1195.41 400.18,1196.32 397.25,1197.22 394.31,1198.12 391.38,1199.02 388.44,1199.92 385.51,1200.82 382.57,1201.72 379.64,1202.62 376.7,1203.51 373.77,1204.41 370.83,1205.3 367.9,1206.2 364.96,1207.09 362.03,1207.98 359.09,1208.88 356.16,1209.77 353.22,1210.66 350.29,1211.56 347.36,1212.45 344.43,1213.35 341.5,1214.25 338.57,1215.14 335.64,1216.04 332.71,1216.94 329.78,1217.84 326.86,1218.74 323.93,1219.64 321.01,1220.55 318.08,1221.45 315.16,1222.36 312.24,1223.27 309.32,1224.18 306.4,1225.1 303.49,1226.01 300.57,1226.93 297.66,1227.85 294.75,1228.77 291.84,1229.7 288.93,1230.63 286.03,1231.56 283.12,1232.5 280.22,1233.43 277.32,1234.37 274.42,1235.32 271.53,1236.27 268.63,1237.22 265.74,1238.17 262.85,1239.13 259.97,1240.1 257.08,1241.07 254.2,1242.04 251.32,1243.01 248.44,1243.99 245.57,1244.98 242.7,1245.97 239.83,1246.97 236.96,1247.97 234.09,1248.98 231.22,1249.99 228.35,1251.02 225.47,1252.05 222.6,1253.1 219.71,1254.15 216.82,1255.22 213.93,1256.3 211.03,1257.39 208.11,1258.5 205.19,1259.62 202.26,1260.76 199.32,1261.91 196.36,1263.09 193.4,1264.29 190.48,1265.56 187.65,1266.94 184.94,1268.47 182.39,1270.2 180.06,1272.16 178.03,1274.35 176.49,1276.67 175.69,1278.98 175.81,1281.16 176.89,1283.15 178.74,1284.96 181.18,1286.6 184.02,1288.09 187.1,1289.42 190.22,1290.62 193.31,1291.69 196.37,1292.65 199.41,1293.5 202.43,1294.27 205.44,1294.97 208.43,1295.6 211.42,1296.19 214.41,1296.75 217.4,1297.28 220.4,1297.8 223.4,1298.29 226.4,1298.78 229.41,1299.24 232.41,1299.69 235.43,1300.12 238.44,1300.54 241.46,1300.94 244.48,1301.33 247.51,1301.7 250.54,1302.06 253.57,1302.41 256.6,1302.74 259.64,1303.06 262.67,1303.37 265.71,1303.67 268.76,1303.96 271.8,1304.24 274.85,1304.51 277.9,1304.77 280.95,1305.02 284,1305.26 287.05,1305.49 290.11,1305.72 293.16,1305.93 296.22,1306.14 299.28,1306.35 302.34,1306.55 305.4,1306.74 308.46,1306.93 311.52,1307.11 314.58,1307.29 317.64,1307.47 320.71,1307.64 323.77,1307.81 326.83,1307.98 329.9,1308.15 332.96,1308.31 336.03,1308.47 339.09,1308.64 342.15,1308.8 345.22,1308.95 348.28,1309.11 351.34,1309.27 354.41,1309.42 357.47,1309.58 360.53,1309.73 363.6,1309.88 366.66,1310.03 369.72,1310.18 372.78,1310.32 375.85,1310.47 378.91,1310.61 381.97,1310.76 385.04,1310.9 388.1,1311.04 391.16,1311.18 394.22,1311.32 397.29,1311.46 400.35,1311.59 403.41,1311.73 406.47,1311.86 409.54,1311.99 412.6,1312.12 415.66,1312.25 418.72,1312.38 421.79,1312.51 424.85,1312.64 427.91,1312.76 430.97,1312.89 434.04,1313.01 437.1,1313.13 440.16,1313.26 443.22,1313.38 446.29,1313.5 449.35,1313.61 452.41,1313.73 455.47,1313.85 458.53,1313.96 461.6,1314.08 464.66,1314.19 467.72,1314.3 470.78,1314.41 473.84,1314.52 476.91,1314.63 479.97,1314.74 483.03,1314.85 486.09,1314.96 489.15,1315.06 492.22,1315.17 495.28,1315.27 498.34,1315.38 501.4,1315.48 504.46,1315.58 507.53,1315.68 510.59,1315.78 513.65,1315.88 516.71,1315.98 519.77,1316.08 522.83,1316.17 525.9,1316.27 528.96,1316.36 532.02,1316.46 535.08,1316.55 538.14,1316.65 541.2,1316.74 544.27,1316.83 547.33,1316.92 550.39,1317.01 553.45,1317.1 556.51,1317.19 559.57,1317.28 562.64,1317.37 565.7,1317.45 568.76,1317.54 571.82,1317.63 574.88,1317.71 577.94,1317.79 581.01,1317.88 584.07,1317.96 587.13,1318.05 590.19,1318.13 593.25,1318.21 596.31,1318.29 599.38,1318.37 602.44,1318.45 605.5,1318.53 608.56,1318.61 611.62,1318.69 614.68,1318.77 617.74,1318.84 620.81,1318.92 623.87,1319 626.93,1319.08 629.99,1319.15 633.05,1319.23 636.11,1319.3 639.18,1319.38 642.24,1319.45 645.3,1319.53 648.36,1319.6 651.42,1319.67 654.49,1319.75 657.55,1319.82 660.61,1319.89 663.67,1319.96 666.73,1320.03 669.79,1320.11 672.86,1320.18 675.92,1320.25 678.98,1320.32 682.04,1320.39 685.1,1320.46 688.17,1320.53 691.23,1320.6 694.29,1320.67 697.35,1320.74 700.41,1320.81 703.48,1320.88 706.54,1320.94 709.6,1321.01 712.66,1321.08 715.72,1321.15 718.79,1321.22 721.85,1321.29 724.91,1321.35 727.97,1321.42 731.04,1321.49 734.1,1321.56 737.16,1321.63 740.22,1321.69 743.29,1321.76 746.35,1321.83 749.41,1321.9 752.47,1321.96 755.54,1322.03 758.6,1322.1 761.66,1322.17 764.72,1322.23 767.79,1322.3 770.85,1322.37 773.91,1322.44 776.97,1322.5 780.04,1322.57 783.1,1322.64 786.16,1322.71 789.23,1322.78 792.29,1322.85 795.35,1322.91 798.41,1322.98 801.48,1323.05 804.54,1323.12 807.6,1323.19 810.67,1323.26 813.73,1323.33 816.79,1323.4 819.86,1323.47 822.92,1323.54 825.98,1323.61 829.05,1323.68 832.11,1323.75 835.18,1323.82 838.24,1323.89 841.3,1323.96 844.37,1324.03 847.43,1324.11 850.49,1324.18 853.56,1324.25 856.62,1324.32 859.69,1324.4 862.75,1324.47 865.81,1324.55 868.88,1324.62 871.94,1324.7 875.01,1324.77 878.07,1324.85 881.14,1324.92 884.2,1325 850,1325.2 802,1325.3" stroke="#188399"/>
</g>
<circle cx="265" cy="1305.3" r="14.6" fill="#1070b8" stroke="#7a2a8a" stroke-width="1"/>
<circle cx="307.9" cy="1306" r="14.6" fill="#ba4426" stroke="#70ba40" stroke-width="1"/>
<circle cx="315.6" cy="1306" r="14.6" fill="#70bc42" stroke="#70bc42" stroke-width="1"/>
<path d="M267.9 1285.9L282.4 1305.5L267.9 1325.1L253.4 1305.5Z" fill="none" stroke="#1674bc" stroke-width="1.3"/>
<path d="M311.5 1286.5L326 1306.1L311.5 1325.7L297 1306.1Z" fill="none" stroke="#b73218" stroke-width="1.3"/>
<path d="M317.6 1286.7L332.1 1306.3L317.6 1325.9L303.1 1306.3Z" fill="none" stroke="#70ba40" stroke-width="1.3"/>
<g stroke="#808080" stroke-width="1.3" fill="none">
<path d="M130.7 759.5V1372H920.4"/>
<path d="M130.7 1372V1364"/>
<path d="M306.24 1372V1364"/>
<path d="M481.78 1372V1364"/>
<path d="M657.32 1372V1364"/>
<path d="M832.86 1372V1364"/>
<path d="M130.7 1372H138.7"/>
<path d="M130.7 1284.5H138.7"/>
<path d="M130.7 1197H138.7"/>
<path d="M130.7 1109.5H138.7"/>
<path d="M130.7 1022H138.7"/>
<path d="M130.7 934.5H138.7"/>
<path d="M130.7 847H138.7"/>
<path d="M130.7 759.5H138.7"/>
</g>
<g fill="#404040" font-family="Liberation Sans, Arial, Helvetica, sans-serif" font-size="33">
<text x="130.7" y="1415.5" text-anchor="middle">1240</text>
<text x="306.24" y="1415.5" text-anchor="middle">1250</text>
<text x="481.78" y="1415.5" text-anchor="middle">1260</text>
<text x="657.32" y="1415.5" text-anchor="middle">1270</text>
<text x="832.86" y="1415.5" text-anchor="middle">1280</text>
<text x="119.2" y="1384.8" text-anchor="end">0</text>
<text x="119.2" y="1297.3" text-anchor="end">0.1</text>
<text x="119.2" y="1209.8" text-anchor="end">0.2</text>
<text x="119.2" y="1122.3" text-anchor="end">0.3</text>
<text x="119.2" y="1034.8" text-anchor="end">0.4</text>
<text x="119.2" y="947.3" text-anchor="end">0.5</text>
<text x="119.2" y="859.8" text-anchor="end">0.6</text>
<text x="119.2" y="772.3" text-anchor="end">0.7</text>
</g>
<defs><clipPath id="cd"><rect x="1088.7" y="757.5" width="789.1" height="614.5"/></clipPath></defs>
<g clip-path="url(#cd)" fill="none" stroke-width="2" stroke-linejoin="round">
<polyline points="1134,1325.5 1136.58,1325.47 1139.15,1325.43 1141.73,1325.4 1144.31,1325.37 1146.89,1325.34 1149.47,1325.31 1152.04,1325.29 1154.62,1325.26 1157.2,1325.24 1159.78,1325.22 1162.36,1325.19 1164.95,1325.17 1167.53,1325.16 1170.11,1325.14 1172.69,1325.12 1175.27,1325.1 1177.86,1325.09 1180.44,1325.07 1183.02,1325.06 1185.61,1325.05 1188.19,1325.03 1190.78,1325.02 1193.36,1325.01 1195.95,1325 1198.53,1324.99 1201.12,1324.98 1203.7,1324.97 1206.29,1324.96 1208.87,1324.95 1211.46,1324.94 1214.05,1324.94 1216.64,1324.93 1219.22,1324.92 1221.81,1324.91 1224.4,1324.91 1226.99,1324.9 1229.57,1324.89 1232.16,1324.88 1234.75,1324.88 1237.34,1324.87 1239.93,1324.86 1242.52,1324.85 1245.11,1324.85 1247.7,1324.84 1250.29,1324.83 1252.88,1324.82 1255.47,1324.81 1258.06,1324.8 1260.65,1324.79 1263.24,1324.78 1265.83,1324.77 1268.42,1324.76 1271.01,1324.74 1273.6,1324.73 1276.19,1324.71 1278.78,1324.7 1281.37,1324.68 1283.96,1324.67 1286.55,1324.65 1289.15,1324.63 1291.74,1324.61 1294.33,1324.59 1296.92,1324.57 1299.51,1324.54 1302.1,1324.52 1304.69,1324.49 1307.28,1324.47 1309.88,1324.44 1312.47,1324.41 1315.06,1324.38 1317.65,1324.34 1320.24,1324.31 1322.83,1324.27 1325.42,1324.24 1328.02,1324.2 1330.61,1324.16 1333.2,1324.11 1335.79,1324.07 1338.38,1324.02 1340.97,1323.98 1343.56,1323.93 1346.15,1323.88 1348.74,1323.82 1351.33,1323.77 1353.92,1323.71 1356.51,1323.65 1359.1,1323.59 1361.69,1323.52 1364.28,1323.46 1366.87,1323.39 1369.46,1323.32 1372.05,1323.24 1374.64,1323.17 1377.23,1323.09 1379.82,1323.01 1382.41,1322.93 1384.99,1322.84 1387.58,1322.75 1390.17,1322.66 1392.76,1322.57 1395.35,1322.47 1397.93,1322.37 1400.52,1322.27 1403.11,1322.16 1405.69,1322.05 1408.28,1321.94 1410.87,1321.83 1413.45,1321.71 1416.04,1321.59 1418.62,1321.47 1421.21,1321.34 1423.79,1321.21 1426.38,1321.08 1428.96,1320.94 1431.54,1320.8 1434.13,1320.66 1436.71,1320.51 1439.29,1320.36 1441.87,1320.21 1444.46,1320.05 1447.04,1319.89 1449.62,1319.73 1452.2,1319.56 1454.78,1319.38 1457.36,1319.21 1459.94,1319.03 1462.52,1318.85 1465.1,1318.66 1467.68,1318.47 1470.25,1318.27 1472.83,1318.07 1475.41,1317.87 1477.98,1317.66 1480.56,1317.45 1483.14,1317.23 1485.71,1317.01 1488.29,1316.79 1490.86,1316.56 1493.44,1316.32 1496.01,1316.08 1498.58,1315.84 1501.15,1315.59 1503.73,1315.34 1506.3,1315.09 1508.87,1314.83 1511.44,1314.56 1514.01,1314.29 1516.58,1314.01 1519.15,1313.73 1521.71,1313.45 1524.28,1313.16 1526.85,1312.86 1529.41,1312.56 1531.98,1312.26 1534.55,1311.95 1537.11,1311.63 1539.67,1311.31 1542.24,1310.99 1544.8,1310.66 1547.36,1310.32 1549.92,1309.98 1552.48,1309.63 1555.05,1309.28 1557.6,1308.92 1560.16,1308.56 1562.72,1308.19 1565.28,1307.81 1567.84,1307.43 1570.39,1307.05 1572.95,1306.65 1575.5,1306.26 1578.06,1305.85 1580.61,1305.44 1583.16,1305.03 1585.72,1304.61 1588.27,1304.18 1590.82,1303.75 1593.37,1303.31 1595.92,1302.86 1598.46,1302.41 1601.01,1301.95 1603.56,1301.49 1606.1,1301.02 1608.65,1300.54 1611.19,1300.06 1613.74,1299.57 1616.28,1299.07 1618.82,1298.57 1621.36,1298.06 1623.9,1297.54 1626.44,1297.02 1628.98,1296.49 1631.52,1295.95 1634.05,1295.41 1636.59,1294.86 1639.12,1294.3 1641.65,1293.73 1644.18,1293.15 1646.71,1292.56 1649.23,1291.97 1651.75,1291.35 1654.27,1290.73 1656.78,1290.09 1659.28,1289.44 1661.78,1288.78 1664.28,1288.1 1666.77,1287.41 1669.25,1286.7 1671.73,1285.97 1674.2,1285.22 1676.67,1284.46 1679.12,1283.68 1681.57,1282.88 1684.01,1282.06 1686.45,1281.22 1688.87,1280.36 1691.28,1279.47 1693.69,1278.57 1696.08,1277.64 1698.47,1276.69 1700.84,1275.71 1703.2,1274.71 1705.56,1273.68 1707.89,1272.63 1710.22,1271.55 1712.54,1270.44 1714.84,1269.3 1717.13,1268.14 1719.41,1266.95 1721.67,1265.72 1723.92,1264.47 1726.15,1263.18 1728.37,1261.87 1730.57,1260.52 1732.76,1259.14 1734.94,1257.73 1737.1,1256.3 1739.24,1254.83 1741.36,1253.34 1743.48,1251.83 1745.57,1250.28 1747.65,1248.71 1749.71,1247.12 1751.75,1245.51 1753.78,1243.87 1755.79,1242.2 1757.79,1240.52 1759.76,1238.82 1761.72,1237.09 1763.66,1235.35 1765.58,1233.59 1767.49,1231.81 1769.37,1230.01 1771.24,1228.19 1773.09,1226.36 1774.92,1224.52 1776.74,1222.65 1778.54,1220.77 1780.32,1218.88 1782.08,1216.97 1783.83,1215.05 1785.56,1213.12 1787.28,1211.17 1788.98,1209.21 1790.66,1207.23 1792.33,1205.25 1793.99,1203.25 1795.63,1201.24 1797.26,1199.22 1798.88,1197.19 1800.48,1195.15 1802.07,1193.1 1803.65,1191.04 1805.21,1188.97 1806.76,1186.89 1808.3,1184.8 1809.83,1182.71 1811.35,1180.61 1812.86,1178.5 1814.35,1176.38 1815.84,1174.26 1817.32,1172.13 1818.78,1170 1820.24,1167.86 1821.69,1165.71 1823.13,1163.57 1824.56,1161.41 1825.98,1159.26 1827.4,1157.1 1828.81,1154.93 1830.21,1152.77 1831.6,1150.6 1832.99,1148.43 1834.37,1146.26 1835.75,1144.09 1837.12,1141.92 1838.48,1139.74 1839.84,1137.57 1841.2,1135.4" stroke="#7a7a26"/>
<polyline points="1148.9,1319.5 1151.23,1319.44 1153.56,1319.38 1155.9,1319.32 1158.23,1319.26 1160.56,1319.2 1162.9,1319.14 1165.23,1319.09 1167.56,1319.03 1169.9,1318.97 1172.23,1318.92 1174.56,1318.87 1176.9,1318.82 1179.23,1318.76 1181.57,1318.71 1183.9,1318.66 1186.24,1318.61 1188.57,1318.57 1190.91,1318.52 1193.24,1318.47 1195.58,1318.42 1197.92,1318.38 1200.25,1318.33 1202.59,1318.29 1204.92,1318.24 1207.26,1318.2 1209.6,1318.16 1211.94,1318.12 1214.27,1318.08 1216.61,1318.03 1218.95,1317.99 1221.28,1317.95 1223.62,1317.91 1225.96,1317.87 1228.3,1317.84 1230.64,1317.8 1232.97,1317.76 1235.31,1317.72 1237.65,1317.68 1239.99,1317.65 1242.33,1317.61 1244.67,1317.57 1247.01,1317.54 1249.35,1317.5 1251.69,1317.46 1254.03,1317.43 1256.37,1317.39 1258.71,1317.36 1261.05,1317.32 1263.39,1317.29 1265.73,1317.25 1268.07,1317.22 1270.41,1317.18 1272.75,1317.15 1275.09,1317.11 1277.43,1317.08 1279.77,1317.04 1282.11,1317.01 1284.45,1316.98 1286.79,1316.94 1289.13,1316.91 1291.47,1316.87 1293.81,1316.84 1296.15,1316.8 1298.5,1316.77 1300.84,1316.73 1303.18,1316.69 1305.52,1316.66 1307.86,1316.62 1310.2,1316.58 1312.54,1316.55 1314.89,1316.51 1317.23,1316.47 1319.57,1316.44 1321.91,1316.4 1324.25,1316.36 1326.59,1316.32 1328.94,1316.28 1331.28,1316.24 1333.62,1316.2 1335.96,1316.16 1338.3,1316.12 1340.65,1316.08 1342.99,1316.04 1345.33,1315.99 1347.67,1315.95 1350.02,1315.91 1352.36,1315.86 1354.7,1315.82 1357.04,1315.77 1359.38,1315.72 1361.73,1315.68 1364.07,1315.63 1366.41,1315.58 1368.75,1315.53 1371.09,1315.48 1373.44,1315.43 1375.78,1315.38 1378.12,1315.33 1380.46,1315.28 1382.8,1315.22 1385.15,1315.17 1387.49,1315.11 1389.83,1315.05 1392.17,1315 1394.51,1314.94 1396.86,1314.88 1399.2,1314.82 1401.54,1314.76 1403.88,1314.69 1406.22,1314.63 1408.57,1314.57 1410.91,1314.5 1413.25,1314.43 1415.59,1314.37 1417.93,1314.3 1420.27,1314.23 1422.61,1314.16 1424.96,1314.08 1427.3,1314.01 1429.64,1313.93 1431.98,1313.86 1434.32,1313.78 1436.66,1313.7 1439,1313.62 1441.34,1313.54 1443.68,1313.46 1446.02,1313.37 1448.36,1313.29 1450.7,1313.2 1453.04,1313.11 1455.38,1313.02 1457.72,1312.93 1460.06,1312.84 1462.4,1312.75 1464.74,1312.65 1467.08,1312.55 1469.42,1312.45 1471.76,1312.35 1474.1,1312.25 1476.44,1312.15 1478.78,1312.04 1481.12,1311.94 1483.46,1311.83 1485.79,1311.72 1488.13,1311.61 1490.47,1311.49 1492.81,1311.38 1495.15,1311.26 1497.49,1311.14 1499.82,1311.02 1502.16,1310.9 1504.5,1310.77 1506.84,1310.65 1509.17,1310.52 1511.51,1310.39 1513.85,1310.26 1516.18,1310.12 1518.52,1309.99 1520.86,1309.85 1523.19,1309.71 1525.53,1309.57 1527.86,1309.42 1530.2,1309.28 1532.53,1309.13 1534.87,1308.98 1537.2,1308.83 1539.54,1308.67 1541.87,1308.52 1544.21,1308.36 1546.54,1308.2 1548.88,1308.03 1551.21,1307.87 1553.54,1307.7 1555.88,1307.53 1558.21,1307.36 1560.54,1307.18 1562.88,1307.01 1565.21,1306.83 1567.54,1306.65 1569.87,1306.46 1572.21,1306.28 1574.54,1306.09 1576.87,1305.9 1579.2,1305.7 1581.53,1305.51 1583.86,1305.31 1586.19,1305.11 1588.52,1304.91 1590.85,1304.7 1593.18,1304.49 1595.51,1304.28 1597.84,1304.07 1600.17,1303.85 1602.5,1303.63 1604.83,1303.41 1607.15,1303.19 1609.48,1302.96 1611.81,1302.73 1614.14,1302.5 1616.46,1302.26 1618.79,1302.02 1621.12,1301.78 1623.44,1301.54 1625.77,1301.29 1628.1,1301.04 1630.42,1300.79 1632.75,1300.54 1635.07,1300.28 1637.39,1300.02 1639.72,1299.75 1642.04,1299.48 1644.37,1299.21 1646.69,1298.94 1649.01,1298.66 1651.33,1298.38 1653.65,1298.09 1655.97,1297.8 1658.29,1297.51 1660.61,1297.21 1662.93,1296.91 1665.25,1296.6 1667.56,1296.29 1669.88,1295.98 1672.2,1295.66 1674.51,1295.33 1676.82,1295 1679.14,1294.67 1681.45,1294.33 1683.76,1293.98 1686.07,1293.63 1688.38,1293.28 1690.68,1292.92 1692.99,1292.55 1695.3,1292.18 1697.6,1291.8 1699.9,1291.42 1702.2,1291.03 1704.51,1290.63 1706.8,1290.23 1709.1,1289.82 1711.4,1289.41 1713.69,1288.99 1715.99,1288.56 1718.28,1288.12 1720.57,1287.68 1722.86,1287.23 1725.15,1286.78 1727.43,1286.32 1729.72,1285.85 1732,1285.37 1734.28,1284.89 1736.56,1284.4 1738.84,1283.9 1741.11,1283.39 1743.39,1282.88 1745.66,1282.36 1747.93,1281.83 1750.2,1281.29 1752.47,1280.74 1754.73,1280.19 1756.99,1279.62 1759.25,1279.05 1761.51,1278.47 1763.77,1277.88 1766.02,1277.29 1768.28,1276.68 1770.53,1276.06 1772.77,1275.44 1775.02,1274.81 1777.26,1274.16 1779.5,1273.51 1781.74,1272.85 1783.98,1272.18 1786.21,1271.49 1788.45,1270.8 1790.68,1270.1 1792.9,1269.39 1795.13,1268.67 1797.35,1267.94 1799.57,1267.2 1801.78,1266.44 1804,1265.68 1806.21,1264.91 1808.42,1264.12 1810.62,1263.33 1812.83,1262.52 1815.03,1261.7 1817.22,1260.88 1819.42,1260.04 1821.61,1259.19 1823.8,1258.32 1825.98,1257.45 1828.17,1256.56 1830.35,1255.67 1832.52,1254.76 1834.7,1253.84 1836.87,1252.9 1839.04,1251.96 1841.2,1251" stroke="#481818"/>
<polyline points="1148.9,1325.3 1151.6,1325.31 1154.3,1325.32 1157,1325.33 1159.7,1325.34 1162.4,1325.34 1165.1,1325.35 1167.8,1325.35 1170.5,1325.36 1173.2,1325.36 1175.9,1325.36 1178.6,1325.36 1181.29,1325.36 1183.99,1325.36 1186.69,1325.36 1189.39,1325.35 1192.08,1325.35 1194.78,1325.34 1197.47,1325.33 1200.17,1325.32 1202.86,1325.31 1205.56,1325.3 1208.25,1325.29 1210.95,1325.27 1213.64,1325.26 1216.34,1325.24 1219.03,1325.22 1221.72,1325.21 1224.42,1325.18 1227.11,1325.16 1229.8,1325.14 1232.5,1325.12 1235.19,1325.09 1237.88,1325.06 1240.57,1325.03 1243.26,1325 1245.95,1324.97 1248.64,1324.94 1251.34,1324.9 1254.03,1324.87 1256.72,1324.83 1259.41,1324.79 1262.1,1324.75 1264.79,1324.71 1267.48,1324.67 1270.17,1324.62 1272.86,1324.57 1275.54,1324.53 1278.23,1324.48 1280.92,1324.43 1283.61,1324.37 1286.3,1324.32 1288.99,1324.26 1291.68,1324.2 1294.36,1324.15 1297.05,1324.08 1299.74,1324.02 1302.43,1323.96 1305.11,1323.89 1307.8,1323.82 1310.49,1323.75 1313.18,1323.68 1315.86,1323.61 1318.55,1323.54 1321.24,1323.46 1323.92,1323.38 1326.61,1323.3 1329.3,1323.22 1331.98,1323.14 1334.67,1323.05 1337.36,1322.96 1340.04,1322.87 1342.73,1322.78 1345.42,1322.69 1348.1,1322.6 1350.79,1322.5 1353.47,1322.4 1356.16,1322.3 1358.85,1322.2 1361.53,1322.09 1364.22,1321.99 1366.9,1321.88 1369.59,1321.77 1372.28,1321.65 1374.96,1321.54 1377.65,1321.42 1380.33,1321.31 1383.02,1321.18 1385.7,1321.06 1388.39,1320.94 1391.08,1320.81 1393.76,1320.68 1396.45,1320.55 1399.13,1320.42 1401.82,1320.28 1404.51,1320.15 1407.19,1320.01 1409.88,1319.86 1412.56,1319.72 1415.25,1319.57 1417.94,1319.43 1420.62,1319.27 1423.31,1319.12 1425.99,1318.97 1428.68,1318.81 1431.37,1318.65 1434.05,1318.49 1436.74,1318.32 1439.43,1318.16 1442.11,1317.99 1444.8,1317.82 1447.49,1317.64 1450.18,1317.47 1452.86,1317.29 1455.55,1317.11 1458.24,1316.93 1460.93,1316.74 1463.61,1316.55 1466.3,1316.36 1468.99,1316.17 1471.68,1315.97 1474.37,1315.78 1477.05,1315.58 1479.74,1315.37 1482.43,1315.17 1485.12,1314.96 1487.81,1314.75 1490.5,1314.54 1493.19,1314.32 1495.88,1314.1 1498.57,1313.88 1501.26,1313.66 1503.95,1313.43 1506.64,1313.2 1509.33,1312.96 1512.01,1312.72 1514.7,1312.47 1517.39,1312.22 1520.08,1311.97 1522.77,1311.71 1525.46,1311.44 1528.14,1311.17 1530.83,1310.89 1533.51,1310.61 1536.2,1310.32 1538.88,1310.02 1541.57,1309.71 1544.25,1309.4 1546.93,1309.08 1549.61,1308.75 1552.29,1308.41 1554.97,1308.07 1557.65,1307.72 1560.32,1307.36 1563,1306.98 1565.67,1306.6 1568.35,1306.21 1571.02,1305.81 1573.69,1305.4 1576.36,1304.98 1579.02,1304.55 1581.69,1304.11 1584.35,1303.66 1587.01,1303.19 1589.67,1302.72 1592.33,1302.23 1594.99,1301.73 1597.64,1301.22 1600.3,1300.69 1602.95,1300.16 1605.6,1299.61 1608.24,1299.04 1610.88,1298.46 1613.52,1297.86 1616.15,1297.25 1618.78,1296.63 1621.41,1295.98 1624.03,1295.32 1626.65,1294.64 1629.26,1293.95 1631.86,1293.23 1634.46,1292.5 1637.05,1291.75 1639.63,1290.97 1642.21,1290.18 1644.78,1289.36 1647.34,1288.53 1649.89,1287.67 1652.44,1286.79 1654.97,1285.88 1657.5,1284.96 1660.02,1284.01 1662.53,1283.03 1665.02,1282.03 1667.51,1281 1669.99,1279.96 1672.45,1278.88 1674.91,1277.79 1677.35,1276.66 1679.78,1275.52 1682.2,1274.35 1684.61,1273.16 1687,1271.94 1689.39,1270.7 1691.75,1269.44 1694.11,1268.15 1696.45,1266.84 1698.78,1265.51 1701.09,1264.15 1703.39,1262.77 1705.67,1261.37 1707.94,1259.95 1710.2,1258.5 1712.44,1257.03 1714.66,1255.53 1716.86,1254.02 1719.05,1252.48 1721.23,1250.92 1723.38,1249.34 1725.52,1247.73 1727.64,1246.11 1729.75,1244.46 1731.83,1242.79 1733.9,1241.09 1735.95,1239.38 1737.98,1237.64 1739.99,1235.88 1741.98,1234.1 1743.95,1232.3 1745.9,1230.48 1747.83,1228.64 1749.74,1226.77 1751.63,1224.89 1753.5,1222.98 1755.35,1221.05 1757.18,1219.1 1758.98,1217.13 1760.76,1215.14 1762.52,1213.13 1764.26,1211.1 1765.97,1209.05 1767.66,1206.98 1769.33,1204.89 1770.97,1202.77 1772.59,1200.64 1774.18,1198.49 1775.75,1196.32 1777.29,1194.12 1778.81,1191.91 1780.31,1189.68 1781.77,1187.43 1783.22,1185.16 1784.63,1182.87 1786.02,1180.56 1787.39,1178.24 1788.73,1175.9 1790.05,1173.54 1791.34,1171.16 1792.6,1168.77 1793.84,1166.37 1795.06,1163.94 1796.25,1161.51 1797.42,1159.06 1798.57,1156.6 1799.69,1154.12 1800.79,1151.64 1801.86,1149.14 1802.91,1146.63 1803.94,1144.11 1804.94,1141.57 1805.93,1139.03 1806.89,1136.48 1807.82,1133.92 1808.74,1131.35 1809.63,1128.78 1810.5,1126.2 1811.35,1123.61 1812.18,1121.01 1812.98,1118.41 1813.77,1115.8 1814.53,1113.19 1815.27,1110.57 1815.99,1107.95 1816.69,1105.33 1817.37,1102.7 1818.03,1100.07 1818.67,1097.44 1819.29,1094.81 1819.89,1092.18 1820.47,1089.55 1821.03,1086.91 1821.56,1084.28 1822.09,1081.65 1822.59,1079.02 1823.07,1076.39 1823.53,1073.77 1823.98,1071.14 1824.4,1068.52 1824.81,1065.91 1825.2,1063.3 1829.7,1022.7 1833.4,877.6 1836.5,837.4 1840.8,801.5" stroke="#188399"/>
<path d="M1088.7 1323.3L1877.8 1294.1" stroke="#111"/>
</g>
<circle cx="1581.1" cy="1305.8" r="14.6" fill="#1070b8" stroke="#8db030" stroke-width="1"/>
<circle cx="1559.3" cy="1305.8" r="14.6" fill="#ba4426" stroke="#58c0ed" stroke-width="1"/>
<circle cx="1556.25" cy="1305.8" r="14.6" fill="#70bc42" stroke="#70bc42" stroke-width="1"/>
<path d="M1580.3 1285.8L1594.8 1305.4L1580.3 1325L1565.8 1305.4Z" fill="none" stroke="#1674bc" stroke-width="1.3"/>
<path d="M1558.5 1286.5L1573 1306.1L1558.5 1325.7L1544 1306.1Z" fill="none" stroke="#b73218" stroke-width="1.3"/>
<path d="M1555.5 1286.6L1570 1306.2L1555.5 1325.8L1541 1306.2Z" fill="none" stroke="#70ba40" stroke-width="1.3"/>
<g stroke="#808080" stroke-width="1.3" fill="none">
<path d="M1088.7 759.5V1372H1877.8"/>
<path d="M1088.7 1372V1364"/>
<path d="M1276.6 1372V1364"/>
<path d="M1464.5 1372V1364"/>
<path d="M1652.4 1372V1364"/>
<path d="M1840.3 1372V1364"/>
<path d="M1088.7 1372H1096.7"/>
<path d="M1088.7 1284.5H1096.7"/>
<path d="M1088.7 1197H1096.7"/>
<path d="M1088.7 1109.5H1096.7"/>
<path d="M1088.7 1022H1096.7"/>
<path d="M1088.7 934.5H1096.7"/>
<path d="M1088.7 847H1096.7"/>
<path d="M1088.7 759.5H1096.7"/>
</g>
<g fill="#404040" font-family="Liberation Sans, Arial, Helvetica, sans-serif" font-size="33">
<text x="1088.7" y="1415.5" text-anchor="middle">350</text>
<text x="1276.6" y="1415.5" text-anchor="middle">400</text>
<text x="1464.5" y="1415.5" text-anchor="middle">450</text>
<text x="1652.4" y="1415.5" text-anchor="middle">500</text>
<text x="1840.3" y="1415.5" text-anchor="middle">550</text>
<text x="1077.2" y="1384.8" text-anchor="end">0</text>
<text x="1077.2" y="1297.3" text-anchor="end">0.1</text>
<text x="1077.2" y="1209.8" text-anchor="end">0.2</text>
<text x="1077.2" y="1122.3" text-anchor="end">0.3</text>
<text x="1077.2" y="1034.8" text-anchor="end">0.4</text>
<text x="1077.2" y="947.3" text-anchor="end">0.5</text>
<text x="1077.2" y="859.8" text-anchor="end">0.6</text>
<text x="1077.2" y="772.3" text-anchor="end">0.7</text>
</g>
<path d="M152.6 797.4H207.4" stroke="#7a7a26" stroke-width="2" fill="none"/>
<path d="M152.6 838H207.4" stroke="#481818" stroke-width="2" fill="none"/>
<path d="M152.6 878.6H207.4" stroke="#188399" stroke-width="2" fill="none"/>
<text x="213.5" y="805" font-family="Liberation Serif, Times New Roman, serif" fill="#111" font-size="31" textLength="177" lengthAdjust="spacingAndGlyphs">Zoet-Iverson</text>
<text x="214.5" y="845.3" font-family="Liberation Serif, Times New Roman, serif" fill="#111" font-size="31" textLength="146" lengthAdjust="spacingAndGlyphs">Weertman</text>
<g font-family="Liberation Serif, Times New Roman, serif" fill="#111" font-size="31">
<text x="212.8" y="885.5" font-style="italic">&#964;</text>
<text x="226.8" y="889.7" font-style="italic" font-size="22">b</text>
<text x="240.6" y="885.5">(</text>
<text x="251.6" y="885.5" font-style="italic">x</text>
<text x="269.6" y="889.5" font-style="italic" font-size="22">g</text>
<text x="284.6" y="885.5">)</text>
<text x="305.5" y="885.5" textLength="19" lengthAdjust="spacingAndGlyphs">=</text>
<text x="340.2" y="885.5">0</text>
</g>
<path d="M1110.3 797.4H1165.1" stroke="#7a7a26" stroke-width="2" fill="none"/>
<path d="M1110.3 838H1165.1" stroke="#481818" stroke-width="2" fill="none"/>
<path d="M1110.3 878.6H1165.1" stroke="#188399" stroke-width="2" fill="none"/>
<path d="M1110.3 919.2H1165.1" stroke="#111" stroke-width="2" fill="none"/>
<text x="1171.2" y="805" font-family="Liberation Serif, Times New Roman, serif" fill="#111" font-size="31" textLength="177" lengthAdjust="spacingAndGlyphs">Zoet-Iverson</text>
<text x="1172.2" y="845.3" font-family="Liberation Serif, Times New Roman, serif" fill="#111" font-size="31" textLength="146" lengthAdjust="spacingAndGlyphs">Weertman</text>
<g font-family="Liberation Serif, Times New Roman, serif" fill="#111" font-size="31">
<text x="1170.5" y="885.5" font-style="italic">&#964;</text>
<text x="1184.5" y="889.7" font-style="italic" font-size="22">b</text>
<text x="1198.3" y="885.5">(</text>
<text x="1209.3" y="885.5" font-style="italic">x</text>
<text x="1227.3" y="889.5" font-style="italic" font-size="22">g</text>
<text x="1242.3" y="885.5">)</text>
<text x="1263.2" y="885.5" textLength="19" lengthAdjust="spacingAndGlyphs">=</text>
<text x="1297.9" y="885.5">0</text>
<text x="1172" y="930" font-size="40" transform="translate(1172,930) scale(0.75,1) translate(-1172,-930)">&#8747;</text>
<text x="1193.4" y="913" font-style="italic" font-size="22">x</text>
<text x="1204.3" y="917.5" font-style="italic" font-size="16">g</text>
<text x="1187" y="937.5" font-style="italic" font-size="22">x</text>
<text x="1198.5" y="941" font-style="italic" font-size="16">d</text>
<text x="1223.2" y="925.6" font-style="italic">&#551;</text>
<text x="1251.2" y="925.6">dx</text>
</g>
<text x="185.3" y="759" font-family="Liberation Sans, Arial, Helvetica, sans-serif" font-size="38" font-weight="bold">c</text>
<text x="1146" y="759" font-family="Liberation Sans, Arial, Helvetica, sans-serif" font-size="38" font-weight="bold">d</text>
<text x="481.2" y="1453.7" font-family="Liberation Serif, Times New Roman, serif" font-size="38" font-style="italic" fill="#404040" textLength="20.9" lengthAdjust="spacingAndGlyphs">h</text>
<text x="514.6" y="1453.7" font-family="Liberation Serif, Times New Roman, serif" font-size="38" fill="#404040" textLength="54.8" lengthAdjust="spacingAndGlyphs">(m)</text>
<text x="1429.55" y="1453.7" font-family="Liberation Serif, Times New Roman, serif" font-size="38" font-style="italic" fill="#404040" textLength="18.2" lengthAdjust="spacingAndGlyphs">x</text>
<text x="1463.15" y="1453.7" font-family="Liberation Serif, Times New Roman, serif" font-size="38" fill="#404040" textLength="73" lengthAdjust="spacingAndGlyphs">(km)</text>
<text transform="translate(55.5,0) rotate(-90)" x="-1139.9" y="0" font-family="Liberation Serif, Times New Roman, serif" font-size="38" fill="#404040" font-style="italic" textLength="16.9" lengthAdjust="spacingAndGlyphs">q</text>
<text transform="translate(55.5,0) rotate(-90)" x="-1109.8" y="0" font-family="Liberation Serif, Times New Roman, serif" font-size="38" fill="#404040" textLength="117.8" lengthAdjust="spacingAndGlyphs">(m<tspan font-size="25" dy="-13">2</tspan><tspan dy="13">s</tspan><tspan font-size="25" dy="-13">&#8722;1</tspan><tspan dy="13">)</tspan></text>
<text transform="translate(1004.7,0) rotate(-90)" x="-1139.9" y="0" font-family="Liberation Serif, Times New Roman, serif" font-size="38" fill="#404040" font-style="italic" textLength="16.9" lengthAdjust="spacingAndGlyphs">q</text>
<text transform="translate(1004.7,0) rotate(-90)" x="-1109.8" y="0" font-family="Liberation Serif, Times New Roman, serif" font-size="38" fill="#404040" textLength="117.8" lengthAdjust="spacingAndGlyphs">(m<tspan font-size="25" dy="-13">2</tspan><tspan dy="13">s</tspan><tspan font-size="25" dy="-13">&#8722;1</tspan><tspan dy="13">)</tspan></text>
</svg>
</body></html>
